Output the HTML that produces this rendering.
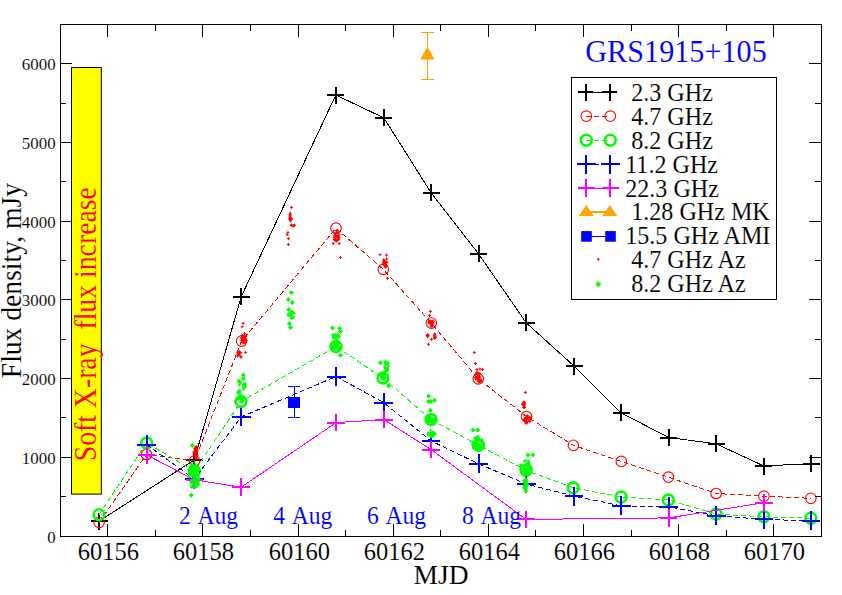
<!DOCTYPE html><html><head><meta charset="utf-8"><style>html,body{margin:0;padding:0;background:#fff;overflow:hidden}svg{display:block}text{font-family:"Liberation Serif",serif}</style></head><body>
<svg width="842" height="595" viewBox="0 0 842 595">
<rect x="0" y="0" width="842" height="595" fill="#fff"/>
<rect x="71.5" y="67.5" width="29.8" height="426.6" fill="#ffff00" stroke="#000" stroke-width="1"/>
<text transform="translate(95.60,461.30) rotate(-90) scale(1,1.100)" font-size="27.75" fill="#ff0000" stroke="#ffff00" stroke-width="0.10" xml:space="preserve">Soft X-ray  flux increase</text>
<polyline points="99.0,521.2 194.3,459.9 241.1,296.9 335.8,95.0 383.9,117.9 431.1,192.8 478.6,253.9 526.1,322.7 574.0,366.0 621.0,412.8 668.6,437.5 716.1,443.8 763.9,466.0 811.0,463.6" fill="none" stroke="#000" stroke-width="1" shape-rendering="crispEdges"/>
<path d="M90.5 521.2h17.0M99.0 512.7v17.0" stroke="#000" stroke-width="2" fill="none" shape-rendering="crispEdges"/>
<path d="M185.8 459.9h17.0M194.3 451.4v17.0" stroke="#000" stroke-width="2" fill="none" shape-rendering="crispEdges"/>
<path d="M232.6 296.9h17.0M241.1 288.4v17.0" stroke="#000" stroke-width="2" fill="none" shape-rendering="crispEdges"/>
<path d="M327.3 95.0h17.0M335.8 86.5v17.0" stroke="#000" stroke-width="2" fill="none" shape-rendering="crispEdges"/>
<path d="M375.4 117.9h17.0M383.9 109.4v17.0" stroke="#000" stroke-width="2" fill="none" shape-rendering="crispEdges"/>
<path d="M422.6 192.8h17.0M431.1 184.3v17.0" stroke="#000" stroke-width="2" fill="none" shape-rendering="crispEdges"/>
<path d="M470.1 253.9h17.0M478.6 245.4v17.0" stroke="#000" stroke-width="2" fill="none" shape-rendering="crispEdges"/>
<path d="M517.6 322.7h17.0M526.1 314.2v17.0" stroke="#000" stroke-width="2" fill="none" shape-rendering="crispEdges"/>
<path d="M565.5 366.0h17.0M574.0 357.5v17.0" stroke="#000" stroke-width="2" fill="none" shape-rendering="crispEdges"/>
<path d="M612.5 412.8h17.0M621.0 404.3v17.0" stroke="#000" stroke-width="2" fill="none" shape-rendering="crispEdges"/>
<path d="M660.1 437.5h17.0M668.6 429.0v17.0" stroke="#000" stroke-width="2" fill="none" shape-rendering="crispEdges"/>
<path d="M707.6 443.8h17.0M716.1 435.3v17.0" stroke="#000" stroke-width="2" fill="none" shape-rendering="crispEdges"/>
<path d="M755.4 466.0h17.0M763.9 457.5v17.0" stroke="#000" stroke-width="2" fill="none" shape-rendering="crispEdges"/>
<path d="M802.5 463.6h17.0M811.0 455.1v17.0" stroke="#000" stroke-width="2" fill="none" shape-rendering="crispEdges"/>
<polyline points="99.1,522.3 146.5,454.5 194.5,461.0 241.6,341.1 336.0,228.2 383.3,269.3 431.3,323.1 478.3,378.8 526.5,416.5 573.4,445.3 621.3,461.4 668.4,477.2 716.1,493.5 763.9,496.2 810.9,498.3" fill="none" stroke="#ff0000" stroke-width="1" stroke-dasharray="5,3" shape-rendering="crispEdges"/>
<circle cx="99.1" cy="522.3" r="5.3" fill="none" stroke="#ff0000" stroke-width="1.1"/>
<circle cx="146.5" cy="454.5" r="5.3" fill="none" stroke="#ff0000" stroke-width="1.1"/>
<circle cx="194.5" cy="461.0" r="5.3" fill="none" stroke="#ff0000" stroke-width="1.1"/>
<circle cx="241.6" cy="341.1" r="5.3" fill="none" stroke="#ff0000" stroke-width="1.1"/>
<circle cx="336.0" cy="228.2" r="5.3" fill="none" stroke="#ff0000" stroke-width="1.1"/>
<circle cx="383.3" cy="269.3" r="5.3" fill="none" stroke="#ff0000" stroke-width="1.1"/>
<circle cx="431.3" cy="323.1" r="5.3" fill="none" stroke="#ff0000" stroke-width="1.1"/>
<circle cx="478.3" cy="378.8" r="5.3" fill="none" stroke="#ff0000" stroke-width="1.1"/>
<circle cx="526.5" cy="416.5" r="5.3" fill="none" stroke="#ff0000" stroke-width="1.1"/>
<circle cx="573.4" cy="445.3" r="5.3" fill="none" stroke="#ff0000" stroke-width="1.1"/>
<circle cx="621.3" cy="461.4" r="5.3" fill="none" stroke="#ff0000" stroke-width="1.1"/>
<circle cx="668.4" cy="477.2" r="5.3" fill="none" stroke="#ff0000" stroke-width="1.1"/>
<circle cx="716.1" cy="493.5" r="5.3" fill="none" stroke="#ff0000" stroke-width="1.1"/>
<circle cx="763.9" cy="496.2" r="5.3" fill="none" stroke="#ff0000" stroke-width="1.1"/>
<circle cx="810.9" cy="498.3" r="5.3" fill="none" stroke="#ff0000" stroke-width="1.1"/>
<polyline points="99.0,514.7 146.6,443.0 194.5,471.0 241.0,401.5 336.0,346.5 383.0,378.0 431.0,419.6 478.6,445.3 526.1,470.3 573.2,487.8 621.1,497.0 668.4,500.0 716.1,514.0 763.9,516.8 810.9,518.2" fill="none" stroke="#00ff00" stroke-width="1" stroke-dasharray="5,3" shape-rendering="crispEdges"/>
<circle cx="99.0" cy="514.7" r="5.4" fill="none" stroke="#00ff00" stroke-width="2.6"/>
<circle cx="146.6" cy="443.0" r="5.4" fill="none" stroke="#00ff00" stroke-width="2.6"/>
<circle cx="194.5" cy="471.0" r="5.4" fill="none" stroke="#00ff00" stroke-width="2.6"/>
<circle cx="241.0" cy="401.5" r="5.4" fill="none" stroke="#00ff00" stroke-width="2.6"/>
<circle cx="336.0" cy="346.5" r="5.4" fill="none" stroke="#00ff00" stroke-width="2.6"/>
<circle cx="383.0" cy="378.0" r="5.4" fill="none" stroke="#00ff00" stroke-width="2.6"/>
<circle cx="431.0" cy="419.6" r="5.4" fill="none" stroke="#00ff00" stroke-width="2.6"/>
<circle cx="478.6" cy="445.3" r="5.4" fill="none" stroke="#00ff00" stroke-width="2.6"/>
<circle cx="526.1" cy="470.3" r="5.4" fill="none" stroke="#00ff00" stroke-width="2.6"/>
<circle cx="573.2" cy="487.8" r="5.4" fill="none" stroke="#00ff00" stroke-width="2.6"/>
<circle cx="621.1" cy="497.0" r="5.4" fill="none" stroke="#00ff00" stroke-width="2.6"/>
<circle cx="668.4" cy="500.0" r="5.4" fill="none" stroke="#00ff00" stroke-width="2.6"/>
<circle cx="716.1" cy="514.0" r="5.4" fill="none" stroke="#00ff00" stroke-width="2.6"/>
<circle cx="763.9" cy="516.8" r="5.4" fill="none" stroke="#00ff00" stroke-width="2.6"/>
<circle cx="810.9" cy="518.2" r="5.4" fill="none" stroke="#00ff00" stroke-width="2.6"/>
<polyline points="146.6,444.6 194.3,479.1 241.1,417.0 336.1,376.5 383.7,402.6 431.0,440.9 478.6,463.8 526.1,484.0 574.0,496.1 621.1,505.8 668.6,506.8 716.1,515.7 763.9,519.4 810.9,520.8" fill="none" stroke="#0000ff" stroke-width="1" stroke-dasharray="5,3" shape-rendering="crispEdges"/>
<path d="M137.2 444.6h18.8M146.6 435.2v18.8" stroke="#0000ff" stroke-width="2" fill="none" shape-rendering="crispEdges"/>
<path d="M184.9 479.1h18.8M194.3 469.7v18.8" stroke="#0000ff" stroke-width="2" fill="none" shape-rendering="crispEdges"/>
<path d="M231.7 417.0h18.8M241.1 407.6v18.8" stroke="#0000ff" stroke-width="2" fill="none" shape-rendering="crispEdges"/>
<path d="M326.7 376.5h18.8M336.1 367.1v18.8" stroke="#0000ff" stroke-width="2" fill="none" shape-rendering="crispEdges"/>
<path d="M374.3 402.6h18.8M383.7 393.2v18.8" stroke="#0000ff" stroke-width="2" fill="none" shape-rendering="crispEdges"/>
<path d="M421.6 440.9h18.8M431.0 431.5v18.8" stroke="#0000ff" stroke-width="2" fill="none" shape-rendering="crispEdges"/>
<path d="M469.2 463.8h18.8M478.6 454.4v18.8" stroke="#0000ff" stroke-width="2" fill="none" shape-rendering="crispEdges"/>
<path d="M516.7 484.0h18.8M526.1 474.6v18.8" stroke="#0000ff" stroke-width="2" fill="none" shape-rendering="crispEdges"/>
<path d="M564.6 496.1h18.8M574.0 486.7v18.8" stroke="#0000ff" stroke-width="2" fill="none" shape-rendering="crispEdges"/>
<path d="M611.7 505.8h18.8M621.1 496.4v18.8" stroke="#0000ff" stroke-width="2" fill="none" shape-rendering="crispEdges"/>
<path d="M659.2 506.8h18.8M668.6 497.4v18.8" stroke="#0000ff" stroke-width="2" fill="none" shape-rendering="crispEdges"/>
<path d="M706.7 515.7h18.8M716.1 506.3v18.8" stroke="#0000ff" stroke-width="2" fill="none" shape-rendering="crispEdges"/>
<path d="M754.5 519.4h18.8M763.9 510.0v18.8" stroke="#0000ff" stroke-width="2" fill="none" shape-rendering="crispEdges"/>
<path d="M801.5 520.8h18.8M810.9 511.4v18.8" stroke="#0000ff" stroke-width="2" fill="none" shape-rendering="crispEdges"/>
<polyline points="146.6,454.8 194.3,479.8 241.1,487.2 336.1,422.6 383.7,419.5 431.0,449.5 526.1,519.4 668.6,517.9 763.9,502.7" fill="none" stroke="#ff00ff" stroke-width="1" shape-rendering="crispEdges"/>
<path d="M137.8 454.8h17.6M146.6 446.0v17.6" stroke="#ff00ff" stroke-width="2" fill="none" shape-rendering="crispEdges"/>
<path d="M185.5 479.8h17.6M194.3 471.0v17.6" stroke="#ff00ff" stroke-width="2" fill="none" shape-rendering="crispEdges"/>
<path d="M232.3 487.2h17.6M241.1 478.4v17.6" stroke="#ff00ff" stroke-width="2" fill="none" shape-rendering="crispEdges"/>
<path d="M327.3 422.6h17.6M336.1 413.8v17.6" stroke="#ff00ff" stroke-width="2" fill="none" shape-rendering="crispEdges"/>
<path d="M374.9 419.5h17.6M383.7 410.7v17.6" stroke="#ff00ff" stroke-width="2" fill="none" shape-rendering="crispEdges"/>
<path d="M422.2 449.5h17.6M431.0 440.7v17.6" stroke="#ff00ff" stroke-width="2" fill="none" shape-rendering="crispEdges"/>
<path d="M517.3 519.4h17.6M526.1 510.6v17.6" stroke="#ff00ff" stroke-width="2" fill="none" shape-rendering="crispEdges"/>
<path d="M659.8 517.9h17.6M668.6 509.1v17.6" stroke="#ff00ff" stroke-width="2" fill="none" shape-rendering="crispEdges"/>
<path d="M755.1 502.7h17.6M763.9 493.9v17.6" stroke="#ff00ff" stroke-width="2" fill="none" shape-rendering="crispEdges"/>
<path d="M427.5 32.5V79.5M421 32.5h13M421 79.5h13" stroke="#ffa500" stroke-width="1" fill="none" shape-rendering="crispEdges"/>
<path d="M427.4 46.5L434.5 59.6H420.3Z" fill="#ffa500"/>
<path d="M294.5 386.5V417.5M288 386.5h12M288 417.5h12" stroke="#0000ff" stroke-width="1" fill="none" shape-rendering="crispEdges"/>
<rect x="288" y="397" width="12" height="11" fill="#0000ff" shape-rendering="crispEdges"/>
<path d="M193.8 448.0h3M195.3 446.5v3" stroke="#ff0000" stroke-width="1" fill="none"/>
<path d="M195.1 446.9h3M196.6 445.4v3" stroke="#ff0000" stroke-width="1" fill="none"/>
<path d="M194.6 450.8h3M196.1 449.3v3" stroke="#ff0000" stroke-width="1" fill="none"/>
<path d="M192.7 452.6h3M194.2 451.1v3" stroke="#ff0000" stroke-width="1" fill="none"/>
<path d="M192.6 451.6h3M194.1 450.1v3" stroke="#ff0000" stroke-width="1" fill="none"/>
<path d="M194.2 456.7h3M195.7 455.2v3" stroke="#ff0000" stroke-width="1" fill="none"/>
<path d="M193.0 448.9h3M194.5 447.4v3" stroke="#ff0000" stroke-width="1" fill="none"/>
<path d="M195.0 458.3h3M196.5 456.8v3" stroke="#ff0000" stroke-width="1" fill="none"/>
<path d="M194.8 451.2h3M196.3 449.7v3" stroke="#ff0000" stroke-width="1" fill="none"/>
<path d="M195.9 449.8h3M197.4 448.3v3" stroke="#ff0000" stroke-width="1" fill="none"/>
<path d="M193.7 456.6h3M195.2 455.1v3" stroke="#ff0000" stroke-width="1" fill="none"/>
<path d="M193.2 453.6h3M194.7 452.1v3" stroke="#ff0000" stroke-width="1" fill="none"/>
<path d="M195.1 450.8h3M196.6 449.3v3" stroke="#ff0000" stroke-width="1" fill="none"/>
<path d="M194.7 446.8h3M196.2 445.3v3" stroke="#ff0000" stroke-width="1" fill="none"/>
<path d="M195.2 451.6h3M196.7 450.1v3" stroke="#ff0000" stroke-width="1" fill="none"/>
<path d="M193.8 453.6h3M195.3 452.1v3" stroke="#ff0000" stroke-width="1" fill="none"/>
<path d="M194.3 449.9h3M195.8 448.4v3" stroke="#ff0000" stroke-width="1" fill="none"/>
<path d="M195.7 455.1h3M197.2 453.6v3" stroke="#ff0000" stroke-width="1" fill="none"/>
<path d="M193.5 453.5h3M195.0 452.0v3" stroke="#ff0000" stroke-width="1" fill="none"/>
<path d="M194.6 457.4h3M196.1 455.9v3" stroke="#ff0000" stroke-width="1" fill="none"/>
<path d="M195.4 449.7h3M196.9 448.2v3" stroke="#ff0000" stroke-width="1" fill="none"/>
<path d="M194.2 455.8h3M195.7 454.3v3" stroke="#ff0000" stroke-width="1" fill="none"/>
<path d="M193.1 452.4h3M194.6 450.9v3" stroke="#ff0000" stroke-width="1" fill="none"/>
<path d="M192.7 454.7h3M194.2 453.2v3" stroke="#ff0000" stroke-width="1" fill="none"/>
<path d="M243.6 339.3h3M245.1 337.8v3" stroke="#ff0000" stroke-width="1" fill="none"/>
<path d="M244.1 336.5h3M245.6 335.0v3" stroke="#ff0000" stroke-width="1" fill="none"/>
<path d="M243.2 339.5h3M244.7 338.0v3" stroke="#ff0000" stroke-width="1" fill="none"/>
<path d="M242.7 338.0h3M244.2 336.5v3" stroke="#ff0000" stroke-width="1" fill="none"/>
<path d="M242.2 340.3h3M243.7 338.8v3" stroke="#ff0000" stroke-width="1" fill="none"/>
<path d="M240.2 340.7h3M241.7 339.2v3" stroke="#ff0000" stroke-width="1" fill="none"/>
<path d="M243.8 336.1h3M245.3 334.6v3" stroke="#ff0000" stroke-width="1" fill="none"/>
<path d="M241.8 340.4h3M243.3 338.9v3" stroke="#ff0000" stroke-width="1" fill="none"/>
<path d="M240.0 338.1h3M241.5 336.6v3" stroke="#ff0000" stroke-width="1" fill="none"/>
<path d="M240.5 335.7h3M242.0 334.2v3" stroke="#ff0000" stroke-width="1" fill="none"/>
<path d="M241.8 342.6h3M243.3 341.1v3" stroke="#ff0000" stroke-width="1" fill="none"/>
<path d="M240.3 337.9h3M241.8 336.4v3" stroke="#ff0000" stroke-width="1" fill="none"/>
<path d="M242.5 342.7h3M244.0 341.2v3" stroke="#ff0000" stroke-width="1" fill="none"/>
<path d="M243.8 342.5h3M245.3 341.0v3" stroke="#ff0000" stroke-width="1" fill="none"/>
<path d="M241.2 337.6h3M242.7 336.1v3" stroke="#ff0000" stroke-width="1" fill="none"/>
<path d="M241.6 342.7h3M243.1 341.2v3" stroke="#ff0000" stroke-width="1" fill="none"/>
<path d="M240.7 335.6h3M242.2 334.1v3" stroke="#ff0000" stroke-width="1" fill="none"/>
<path d="M241.0 338.3h3M242.5 336.8v3" stroke="#ff0000" stroke-width="1" fill="none"/>
<path d="M242.7 335.9h3M244.2 334.4v3" stroke="#ff0000" stroke-width="1" fill="none"/>
<path d="M241.7 339.2h3M243.2 337.7v3" stroke="#ff0000" stroke-width="1" fill="none"/>
<path d="M244.5 340.6h3M246.0 339.1v3" stroke="#ff0000" stroke-width="1" fill="none"/>
<path d="M242.4 339.8h3M243.9 338.3v3" stroke="#ff0000" stroke-width="1" fill="none"/>
<path d="M243.1 333.6h3M244.6 332.1v3" stroke="#ff0000" stroke-width="1" fill="none"/>
<path d="M239.5 356.9h3M241.0 355.4v3" stroke="#ff0000" stroke-width="1" fill="none"/>
<path d="M239.4 357.0h3M240.9 355.5v3" stroke="#ff0000" stroke-width="1" fill="none"/>
<path d="M237.3 354.3h3M238.8 352.8v3" stroke="#ff0000" stroke-width="1" fill="none"/>
<path d="M236.1 355.9h3M237.6 354.4v3" stroke="#ff0000" stroke-width="1" fill="none"/>
<path d="M236.6 352.7h3M238.1 351.2v3" stroke="#ff0000" stroke-width="1" fill="none"/>
<path d="M237.1 352.0h3M238.6 350.5v3" stroke="#ff0000" stroke-width="1" fill="none"/>
<path d="M236.1 354.1h3M237.6 352.6v3" stroke="#ff0000" stroke-width="1" fill="none"/>
<path d="M238.3 352.6h3M239.8 351.1v3" stroke="#ff0000" stroke-width="1" fill="none"/>
<path d="M236.8 354.0h3M238.3 352.5v3" stroke="#ff0000" stroke-width="1" fill="none"/>
<path d="M237.2 352.4h3M238.7 350.9v3" stroke="#ff0000" stroke-width="1" fill="none"/>
<path d="M237.7 354.9h3M239.2 353.4v3" stroke="#ff0000" stroke-width="1" fill="none"/>
<path d="M237.1 353.4h3M238.6 351.9v3" stroke="#ff0000" stroke-width="1" fill="none"/>
<path d="M239.2 352.7h3M240.7 351.2v3" stroke="#ff0000" stroke-width="1" fill="none"/>
<path d="M237.9 352.6h3M239.4 351.1v3" stroke="#ff0000" stroke-width="1" fill="none"/>
<path d="M238.0 351.8h3M239.5 350.3v3" stroke="#ff0000" stroke-width="1" fill="none"/>
<path d="M241.6 323.4h3M243.1 321.9v3" stroke="#ff0000" stroke-width="1" fill="none"/>
<path d="M240.7 326.8h3M242.2 325.3v3" stroke="#ff0000" stroke-width="1" fill="none"/>
<path d="M244.1 352.4h3M245.6 350.9v3" stroke="#ff0000" stroke-width="1" fill="none"/>
<path d="M289.1 220.8h3M290.6 219.3v3" stroke="#ff0000" stroke-width="1" fill="none"/>
<path d="M289.7 218.6h3M291.2 217.1v3" stroke="#ff0000" stroke-width="1" fill="none"/>
<path d="M288.5 215.9h3M290.0 214.4v3" stroke="#ff0000" stroke-width="1" fill="none"/>
<path d="M288.3 219.2h3M289.8 217.7v3" stroke="#ff0000" stroke-width="1" fill="none"/>
<path d="M289.1 219.2h3M290.6 217.7v3" stroke="#ff0000" stroke-width="1" fill="none"/>
<path d="M288.7 214.8h3M290.2 213.3v3" stroke="#ff0000" stroke-width="1" fill="none"/>
<path d="M289.7 219.4h3M291.2 217.9v3" stroke="#ff0000" stroke-width="1" fill="none"/>
<path d="M289.6 218.9h3M291.1 217.4v3" stroke="#ff0000" stroke-width="1" fill="none"/>
<path d="M288.5 217.1h3M290.0 215.6v3" stroke="#ff0000" stroke-width="1" fill="none"/>
<path d="M288.7 213.2h3M290.2 211.7v3" stroke="#ff0000" stroke-width="1" fill="none"/>
<path d="M288.5 218.5h3M290.0 217.0v3" stroke="#ff0000" stroke-width="1" fill="none"/>
<path d="M292.8 225.4h3M294.3 223.9v3" stroke="#ff0000" stroke-width="1" fill="none"/>
<path d="M292.8 225.3h3M294.3 223.8v3" stroke="#ff0000" stroke-width="1" fill="none"/>
<path d="M289.9 225.2h3M291.4 223.7v3" stroke="#ff0000" stroke-width="1" fill="none"/>
<path d="M289.8 225.1h3M291.3 223.6v3" stroke="#ff0000" stroke-width="1" fill="none"/>
<path d="M291.5 226.0h3M293.0 224.5v3" stroke="#ff0000" stroke-width="1" fill="none"/>
<path d="M292.4 225.5h3M293.9 224.0v3" stroke="#ff0000" stroke-width="1" fill="none"/>
<path d="M290.1 207.4h3M291.6 205.9v3" stroke="#ff0000" stroke-width="1" fill="none"/>
<path d="M286.5 232.4h3M288.0 230.9v3" stroke="#ff0000" stroke-width="1" fill="none"/>
<path d="M285.7 234.5h3M287.2 233.0v3" stroke="#ff0000" stroke-width="1" fill="none"/>
<path d="M286.9 238.7h3M288.4 237.2v3" stroke="#ff0000" stroke-width="1" fill="none"/>
<path d="M286.9 244.5h3M288.4 243.0v3" stroke="#ff0000" stroke-width="1" fill="none"/>
<path d="M335.9 239.3h3M337.4 237.8v3" stroke="#ff0000" stroke-width="1" fill="none"/>
<path d="M332.7 237.8h3M334.2 236.3v3" stroke="#ff0000" stroke-width="1" fill="none"/>
<path d="M337.3 239.1h3M338.8 237.6v3" stroke="#ff0000" stroke-width="1" fill="none"/>
<path d="M336.4 235.8h3M337.9 234.3v3" stroke="#ff0000" stroke-width="1" fill="none"/>
<path d="M333.2 239.2h3M334.7 237.7v3" stroke="#ff0000" stroke-width="1" fill="none"/>
<path d="M334.1 239.3h3M335.6 237.8v3" stroke="#ff0000" stroke-width="1" fill="none"/>
<path d="M337.6 234.9h3M339.1 233.4v3" stroke="#ff0000" stroke-width="1" fill="none"/>
<path d="M334.4 240.9h3M335.9 239.4v3" stroke="#ff0000" stroke-width="1" fill="none"/>
<path d="M336.3 232.4h3M337.8 230.9v3" stroke="#ff0000" stroke-width="1" fill="none"/>
<path d="M333.0 239.6h3M334.5 238.1v3" stroke="#ff0000" stroke-width="1" fill="none"/>
<path d="M334.2 236.5h3M335.7 235.0v3" stroke="#ff0000" stroke-width="1" fill="none"/>
<path d="M337.6 237.6h3M339.1 236.1v3" stroke="#ff0000" stroke-width="1" fill="none"/>
<path d="M335.1 240.8h3M336.6 239.3v3" stroke="#ff0000" stroke-width="1" fill="none"/>
<path d="M334.6 240.1h3M336.1 238.6v3" stroke="#ff0000" stroke-width="1" fill="none"/>
<path d="M336.8 232.8h3M338.3 231.3v3" stroke="#ff0000" stroke-width="1" fill="none"/>
<path d="M333.6 233.7h3M335.1 232.2v3" stroke="#ff0000" stroke-width="1" fill="none"/>
<path d="M333.5 237.0h3M335.0 235.5v3" stroke="#ff0000" stroke-width="1" fill="none"/>
<path d="M333.7 235.1h3M335.2 233.6v3" stroke="#ff0000" stroke-width="1" fill="none"/>
<path d="M334.2 235.5h3M335.7 234.0v3" stroke="#ff0000" stroke-width="1" fill="none"/>
<path d="M335.5 240.4h3M337.0 238.9v3" stroke="#ff0000" stroke-width="1" fill="none"/>
<path d="M334.6 240.6h3M336.1 239.1v3" stroke="#ff0000" stroke-width="1" fill="none"/>
<path d="M335.0 236.4h3M336.5 234.9v3" stroke="#ff0000" stroke-width="1" fill="none"/>
<path d="M335.1 230.7h3M336.6 229.2v3" stroke="#ff0000" stroke-width="1" fill="none"/>
<path d="M334.7 232.5h3M336.2 231.0v3" stroke="#ff0000" stroke-width="1" fill="none"/>
<path d="M333.2 235.7h3M334.7 234.2v3" stroke="#ff0000" stroke-width="1" fill="none"/>
<path d="M336.3 236.6h3M337.8 235.1v3" stroke="#ff0000" stroke-width="1" fill="none"/>
<path d="M331.8 243.6h3M333.3 242.1v3" stroke="#ff0000" stroke-width="1" fill="none"/>
<path d="M337.7 243.6h3M339.2 242.1v3" stroke="#ff0000" stroke-width="1" fill="none"/>
<path d="M339.0 257.4h3M340.5 255.9v3" stroke="#ff0000" stroke-width="1" fill="none"/>
<path d="M383.0 262.7h3M384.5 261.2v3" stroke="#ff0000" stroke-width="1" fill="none"/>
<path d="M383.9 265.2h3M385.4 263.7v3" stroke="#ff0000" stroke-width="1" fill="none"/>
<path d="M382.1 263.1h3M383.6 261.6v3" stroke="#ff0000" stroke-width="1" fill="none"/>
<path d="M382.7 260.4h3M384.2 258.9v3" stroke="#ff0000" stroke-width="1" fill="none"/>
<path d="M384.8 262.6h3M386.3 261.1v3" stroke="#ff0000" stroke-width="1" fill="none"/>
<path d="M383.9 265.0h3M385.4 263.5v3" stroke="#ff0000" stroke-width="1" fill="none"/>
<path d="M385.3 262.0h3M386.8 260.5v3" stroke="#ff0000" stroke-width="1" fill="none"/>
<path d="M384.2 262.6h3M385.7 261.1v3" stroke="#ff0000" stroke-width="1" fill="none"/>
<path d="M383.7 264.4h3M385.2 262.9v3" stroke="#ff0000" stroke-width="1" fill="none"/>
<path d="M383.5 262.8h3M385.0 261.3v3" stroke="#ff0000" stroke-width="1" fill="none"/>
<path d="M383.6 266.7h3M385.1 265.2v3" stroke="#ff0000" stroke-width="1" fill="none"/>
<path d="M384.5 266.1h3M386.0 264.6v3" stroke="#ff0000" stroke-width="1" fill="none"/>
<path d="M383.9 266.8h3M385.4 265.3v3" stroke="#ff0000" stroke-width="1" fill="none"/>
<path d="M385.1 259.0h3M386.6 257.5v3" stroke="#ff0000" stroke-width="1" fill="none"/>
<path d="M382.2 261.9h3M383.7 260.4v3" stroke="#ff0000" stroke-width="1" fill="none"/>
<path d="M382.0 260.0h3M383.5 258.5v3" stroke="#ff0000" stroke-width="1" fill="none"/>
<path d="M382.0 264.1h3M383.5 262.6v3" stroke="#ff0000" stroke-width="1" fill="none"/>
<path d="M384.8 266.3h3M386.3 264.8v3" stroke="#ff0000" stroke-width="1" fill="none"/>
<path d="M382.3 264.6h3M383.8 263.1v3" stroke="#ff0000" stroke-width="1" fill="none"/>
<path d="M378.6 254.7h3M380.1 253.2v3" stroke="#ff0000" stroke-width="1" fill="none"/>
<path d="M385.0 255.1h3M386.5 253.6v3" stroke="#ff0000" stroke-width="1" fill="none"/>
<path d="M386.0 278.3h3M387.5 276.8v3" stroke="#ff0000" stroke-width="1" fill="none"/>
<path d="M431.1 321.1h3M432.6 319.6v3" stroke="#ff0000" stroke-width="1" fill="none"/>
<path d="M429.3 323.4h3M430.8 321.9v3" stroke="#ff0000" stroke-width="1" fill="none"/>
<path d="M427.8 323.0h3M429.3 321.5v3" stroke="#ff0000" stroke-width="1" fill="none"/>
<path d="M430.1 322.4h3M431.6 320.9v3" stroke="#ff0000" stroke-width="1" fill="none"/>
<path d="M428.0 322.3h3M429.5 320.8v3" stroke="#ff0000" stroke-width="1" fill="none"/>
<path d="M430.4 323.1h3M431.9 321.6v3" stroke="#ff0000" stroke-width="1" fill="none"/>
<path d="M430.8 323.6h3M432.3 322.1v3" stroke="#ff0000" stroke-width="1" fill="none"/>
<path d="M427.4 322.0h3M428.9 320.5v3" stroke="#ff0000" stroke-width="1" fill="none"/>
<path d="M428.5 321.1h3M430.0 319.6v3" stroke="#ff0000" stroke-width="1" fill="none"/>
<path d="M429.5 326.2h3M431.0 324.7v3" stroke="#ff0000" stroke-width="1" fill="none"/>
<path d="M432.1 321.9h3M433.6 320.4v3" stroke="#ff0000" stroke-width="1" fill="none"/>
<path d="M430.5 324.8h3M432.0 323.3v3" stroke="#ff0000" stroke-width="1" fill="none"/>
<path d="M431.2 323.0h3M432.7 321.5v3" stroke="#ff0000" stroke-width="1" fill="none"/>
<path d="M430.9 325.5h3M432.4 324.0v3" stroke="#ff0000" stroke-width="1" fill="none"/>
<path d="M429.7 322.4h3M431.2 320.9v3" stroke="#ff0000" stroke-width="1" fill="none"/>
<path d="M430.4 326.3h3M431.9 324.8v3" stroke="#ff0000" stroke-width="1" fill="none"/>
<path d="M428.5 321.1h3M430.0 319.6v3" stroke="#ff0000" stroke-width="1" fill="none"/>
<path d="M430.2 321.8h3M431.7 320.3v3" stroke="#ff0000" stroke-width="1" fill="none"/>
<path d="M428.8 322.2h3M430.3 320.7v3" stroke="#ff0000" stroke-width="1" fill="none"/>
<path d="M431.7 322.1h3M433.2 320.6v3" stroke="#ff0000" stroke-width="1" fill="none"/>
<path d="M426.2 334.5h3M427.7 333.0v3" stroke="#ff0000" stroke-width="1" fill="none"/>
<path d="M426.4 335.8h3M427.9 334.3v3" stroke="#ff0000" stroke-width="1" fill="none"/>
<path d="M425.9 335.5h3M427.4 334.0v3" stroke="#ff0000" stroke-width="1" fill="none"/>
<path d="M426.5 335.4h3M428.0 333.9v3" stroke="#ff0000" stroke-width="1" fill="none"/>
<path d="M426.2 336.7h3M427.7 335.2v3" stroke="#ff0000" stroke-width="1" fill="none"/>
<path d="M433.3 336.3h3M434.8 334.8v3" stroke="#ff0000" stroke-width="1" fill="none"/>
<path d="M433.2 338.4h3M434.7 336.9v3" stroke="#ff0000" stroke-width="1" fill="none"/>
<path d="M433.6 337.2h3M435.1 335.7v3" stroke="#ff0000" stroke-width="1" fill="none"/>
<path d="M433.3 335.3h3M434.8 333.8v3" stroke="#ff0000" stroke-width="1" fill="none"/>
<path d="M433.0 337.8h3M434.5 336.3v3" stroke="#ff0000" stroke-width="1" fill="none"/>
<path d="M433.2 334.1h3M434.7 332.6v3" stroke="#ff0000" stroke-width="1" fill="none"/>
<path d="M433.8 337.4h3M435.3 335.9v3" stroke="#ff0000" stroke-width="1" fill="none"/>
<path d="M433.2 334.7h3M434.7 333.2v3" stroke="#ff0000" stroke-width="1" fill="none"/>
<path d="M428.9 311.4h3M430.4 309.9v3" stroke="#ff0000" stroke-width="1" fill="none"/>
<path d="M428.0 315.6h3M429.5 314.1v3" stroke="#ff0000" stroke-width="1" fill="none"/>
<path d="M430.0 339.4h3M431.5 337.9v3" stroke="#ff0000" stroke-width="1" fill="none"/>
<path d="M427.0 344.3h3M428.5 342.8v3" stroke="#ff0000" stroke-width="1" fill="none"/>
<path d="M475.7 373.4h3M477.2 371.9v3" stroke="#ff0000" stroke-width="1" fill="none"/>
<path d="M475.1 373.3h3M476.6 371.8v3" stroke="#ff0000" stroke-width="1" fill="none"/>
<path d="M478.4 373.6h3M479.9 372.1v3" stroke="#ff0000" stroke-width="1" fill="none"/>
<path d="M475.7 373.1h3M477.2 371.6v3" stroke="#ff0000" stroke-width="1" fill="none"/>
<path d="M476.4 373.5h3M477.9 372.0v3" stroke="#ff0000" stroke-width="1" fill="none"/>
<path d="M475.3 373.5h3M476.8 372.0v3" stroke="#ff0000" stroke-width="1" fill="none"/>
<path d="M474.9 373.2h3M476.4 371.7v3" stroke="#ff0000" stroke-width="1" fill="none"/>
<path d="M475.7 372.7h3M477.2 371.2v3" stroke="#ff0000" stroke-width="1" fill="none"/>
<path d="M476.8 373.6h3M478.3 372.1v3" stroke="#ff0000" stroke-width="1" fill="none"/>
<path d="M478.4 380.1h3M479.9 378.6v3" stroke="#ff0000" stroke-width="1" fill="none"/>
<path d="M478.2 381.7h3M479.7 380.2v3" stroke="#ff0000" stroke-width="1" fill="none"/>
<path d="M476.1 377.8h3M477.6 376.3v3" stroke="#ff0000" stroke-width="1" fill="none"/>
<path d="M478.2 380.0h3M479.7 378.5v3" stroke="#ff0000" stroke-width="1" fill="none"/>
<path d="M479.3 379.9h3M480.8 378.4v3" stroke="#ff0000" stroke-width="1" fill="none"/>
<path d="M478.3 381.2h3M479.8 379.7v3" stroke="#ff0000" stroke-width="1" fill="none"/>
<path d="M474.5 379.2h3M476.0 377.7v3" stroke="#ff0000" stroke-width="1" fill="none"/>
<path d="M476.8 381.3h3M478.3 379.8v3" stroke="#ff0000" stroke-width="1" fill="none"/>
<path d="M478.7 381.3h3M480.2 379.8v3" stroke="#ff0000" stroke-width="1" fill="none"/>
<path d="M477.3 381.7h3M478.8 380.2v3" stroke="#ff0000" stroke-width="1" fill="none"/>
<path d="M478.0 380.4h3M479.5 378.9v3" stroke="#ff0000" stroke-width="1" fill="none"/>
<path d="M474.5 378.0h3M476.0 376.5v3" stroke="#ff0000" stroke-width="1" fill="none"/>
<path d="M477.2 379.9h3M478.7 378.4v3" stroke="#ff0000" stroke-width="1" fill="none"/>
<path d="M477.6 380.3h3M479.1 378.8v3" stroke="#ff0000" stroke-width="1" fill="none"/>
<path d="M476.7 375.5h3M478.2 374.0v3" stroke="#ff0000" stroke-width="1" fill="none"/>
<path d="M478.7 380.7h3M480.2 379.2v3" stroke="#ff0000" stroke-width="1" fill="none"/>
<path d="M476.8 379.2h3M478.3 377.7v3" stroke="#ff0000" stroke-width="1" fill="none"/>
<path d="M477.8 376.0h3M479.3 374.5v3" stroke="#ff0000" stroke-width="1" fill="none"/>
<path d="M478.3 377.3h3M479.8 375.8v3" stroke="#ff0000" stroke-width="1" fill="none"/>
<path d="M474.1 377.4h3M475.6 375.9v3" stroke="#ff0000" stroke-width="1" fill="none"/>
<path d="M472.8 352.5h3M474.3 351.0v3" stroke="#ff0000" stroke-width="1" fill="none"/>
<path d="M474.0 363.5h3M475.5 362.0v3" stroke="#ff0000" stroke-width="1" fill="none"/>
<path d="M475.5 369.5h3M477.0 368.0v3" stroke="#ff0000" stroke-width="1" fill="none"/>
<path d="M478.5 369.0h3M480.0 367.5v3" stroke="#ff0000" stroke-width="1" fill="none"/>
<path d="M481.1 369.5h3M482.6 368.0v3" stroke="#ff0000" stroke-width="1" fill="none"/>
<path d="M522.9 403.6h3M524.4 402.1v3" stroke="#ff0000" stroke-width="1" fill="none"/>
<path d="M522.3 405.1h3M523.8 403.6v3" stroke="#ff0000" stroke-width="1" fill="none"/>
<path d="M522.2 407.5h3M523.7 406.0v3" stroke="#ff0000" stroke-width="1" fill="none"/>
<path d="M523.0 406.9h3M524.5 405.4v3" stroke="#ff0000" stroke-width="1" fill="none"/>
<path d="M522.7 402.6h3M524.2 401.1v3" stroke="#ff0000" stroke-width="1" fill="none"/>
<path d="M521.3 404.0h3M522.8 402.5v3" stroke="#ff0000" stroke-width="1" fill="none"/>
<path d="M523.0 404.4h3M524.5 402.9v3" stroke="#ff0000" stroke-width="1" fill="none"/>
<path d="M522.5 402.1h3M524.0 400.6v3" stroke="#ff0000" stroke-width="1" fill="none"/>
<path d="M521.1 404.2h3M522.6 402.7v3" stroke="#ff0000" stroke-width="1" fill="none"/>
<path d="M522.8 407.5h3M524.3 406.0v3" stroke="#ff0000" stroke-width="1" fill="none"/>
<path d="M522.8 404.3h3M524.3 402.8v3" stroke="#ff0000" stroke-width="1" fill="none"/>
<path d="M522.3 405.7h3M523.8 404.2v3" stroke="#ff0000" stroke-width="1" fill="none"/>
<path d="M522.2 402.9h3M523.7 401.4v3" stroke="#ff0000" stroke-width="1" fill="none"/>
<path d="M528.4 417.1h3M529.9 415.6v3" stroke="#ff0000" stroke-width="1" fill="none"/>
<path d="M523.1 419.2h3M524.6 417.7v3" stroke="#ff0000" stroke-width="1" fill="none"/>
<path d="M525.7 417.6h3M527.2 416.1v3" stroke="#ff0000" stroke-width="1" fill="none"/>
<path d="M524.3 420.2h3M525.8 418.7v3" stroke="#ff0000" stroke-width="1" fill="none"/>
<path d="M523.9 419.7h3M525.4 418.2v3" stroke="#ff0000" stroke-width="1" fill="none"/>
<path d="M527.9 419.6h3M529.4 418.1v3" stroke="#ff0000" stroke-width="1" fill="none"/>
<path d="M528.3 421.1h3M529.8 419.6v3" stroke="#ff0000" stroke-width="1" fill="none"/>
<path d="M524.4 422.7h3M525.9 421.2v3" stroke="#ff0000" stroke-width="1" fill="none"/>
<path d="M525.9 415.7h3M527.4 414.2v3" stroke="#ff0000" stroke-width="1" fill="none"/>
<path d="M523.0 419.4h3M524.5 417.9v3" stroke="#ff0000" stroke-width="1" fill="none"/>
<path d="M525.7 417.9h3M527.2 416.4v3" stroke="#ff0000" stroke-width="1" fill="none"/>
<path d="M523.8 418.3h3M525.3 416.8v3" stroke="#ff0000" stroke-width="1" fill="none"/>
<path d="M524.9 422.2h3M526.4 420.7v3" stroke="#ff0000" stroke-width="1" fill="none"/>
<path d="M528.6 421.2h3M530.1 419.7v3" stroke="#ff0000" stroke-width="1" fill="none"/>
<path d="M528.4 417.8h3M529.9 416.3v3" stroke="#ff0000" stroke-width="1" fill="none"/>
<path d="M525.2 418.6h3M526.7 417.1v3" stroke="#ff0000" stroke-width="1" fill="none"/>
<path d="M525.2 418.9h3M526.7 417.4v3" stroke="#ff0000" stroke-width="1" fill="none"/>
<path d="M524.7 423.0h3M526.2 421.5v3" stroke="#ff0000" stroke-width="1" fill="none"/>
<path d="M524.5 417.6h3M526.0 416.1v3" stroke="#ff0000" stroke-width="1" fill="none"/>
<path d="M526.1 417.0h3M527.6 415.5v3" stroke="#ff0000" stroke-width="1" fill="none"/>
<path d="M525.2 423.1h3M526.7 421.6v3" stroke="#ff0000" stroke-width="1" fill="none"/>
<path d="M523.9 392.4h3M525.4 390.9v3" stroke="#ff0000" stroke-width="1" fill="none"/>
<path d="M196.7 483.6h3M198.2 482.1v3" stroke="#00ff00" stroke-width="1" fill="none"/>
<path d="M193.9 486.2h3M195.4 484.7v3" stroke="#00ff00" stroke-width="1" fill="none"/>
<path d="M197.3 476.8h3M198.8 475.3v3" stroke="#00ff00" stroke-width="1" fill="none"/>
<path d="M195.1 474.2h3M196.6 472.7v3" stroke="#00ff00" stroke-width="1" fill="none"/>
<path d="M195.3 479.3h3M196.8 477.8v3" stroke="#00ff00" stroke-width="1" fill="none"/>
<path d="M190.1 463.8h3M191.6 462.3v3" stroke="#00ff00" stroke-width="1" fill="none"/>
<path d="M192.2 471.4h3M193.7 469.9v3" stroke="#00ff00" stroke-width="1" fill="none"/>
<path d="M190.3 481.7h3M191.8 480.2v3" stroke="#00ff00" stroke-width="1" fill="none"/>
<path d="M194.2 470.3h3M195.7 468.8v3" stroke="#00ff00" stroke-width="1" fill="none"/>
<path d="M193.1 472.8h3M194.6 471.3v3" stroke="#00ff00" stroke-width="1" fill="none"/>
<path d="M188.8 466.7h3M190.3 465.2v3" stroke="#00ff00" stroke-width="1" fill="none"/>
<path d="M192.5 468.2h3M194.0 466.7v3" stroke="#00ff00" stroke-width="1" fill="none"/>
<path d="M191.9 466.1h3M193.4 464.6v3" stroke="#00ff00" stroke-width="1" fill="none"/>
<path d="M190.8 464.9h3M192.3 463.4v3" stroke="#00ff00" stroke-width="1" fill="none"/>
<path d="M189.6 469.2h3M191.1 467.7v3" stroke="#00ff00" stroke-width="1" fill="none"/>
<path d="M193.3 485.6h3M194.8 484.1v3" stroke="#00ff00" stroke-width="1" fill="none"/>
<path d="M195.2 473.2h3M196.7 471.7v3" stroke="#00ff00" stroke-width="1" fill="none"/>
<path d="M191.6 476.1h3M193.1 474.6v3" stroke="#00ff00" stroke-width="1" fill="none"/>
<path d="M191.1 471.3h3M192.6 469.8v3" stroke="#00ff00" stroke-width="1" fill="none"/>
<path d="M187.7 469.7h3M189.2 468.2v3" stroke="#00ff00" stroke-width="1" fill="none"/>
<path d="M192.5 478.9h3M194.0 477.4v3" stroke="#00ff00" stroke-width="1" fill="none"/>
<path d="M196.5 468.1h3M198.0 466.6v3" stroke="#00ff00" stroke-width="1" fill="none"/>
<path d="M190.0 469.0h3M191.5 467.5v3" stroke="#00ff00" stroke-width="1" fill="none"/>
<path d="M191.4 474.1h3M192.9 472.6v3" stroke="#00ff00" stroke-width="1" fill="none"/>
<path d="M196.9 474.8h3M198.4 473.3v3" stroke="#00ff00" stroke-width="1" fill="none"/>
<path d="M191.3 486.6h3M192.8 485.1v3" stroke="#00ff00" stroke-width="1" fill="none"/>
<path d="M196.1 484.7h3M197.6 483.2v3" stroke="#00ff00" stroke-width="1" fill="none"/>
<path d="M192.7 480.2h3M194.2 478.7v3" stroke="#00ff00" stroke-width="1" fill="none"/>
<path d="M197.4 481.3h3M198.9 479.8v3" stroke="#00ff00" stroke-width="1" fill="none"/>
<path d="M194.1 482.4h3M195.6 480.9v3" stroke="#00ff00" stroke-width="1" fill="none"/>
<path d="M192.0 476.8h3M193.5 475.3v3" stroke="#00ff00" stroke-width="1" fill="none"/>
<path d="M189.6 486.4h3M191.1 484.9v3" stroke="#00ff00" stroke-width="1" fill="none"/>
<path d="M194.1 470.4h3M195.6 468.9v3" stroke="#00ff00" stroke-width="1" fill="none"/>
<path d="M188.4 469.0h3M189.9 467.5v3" stroke="#00ff00" stroke-width="1" fill="none"/>
<path d="M194.0 480.7h3M195.5 479.2v3" stroke="#00ff00" stroke-width="1" fill="none"/>
<path d="M192.8 477.7h3M194.3 476.2v3" stroke="#00ff00" stroke-width="1" fill="none"/>
<path d="M191.3 468.3h3M192.8 466.8v3" stroke="#00ff00" stroke-width="1" fill="none"/>
<path d="M193.6 462.8h3M195.1 461.3v3" stroke="#00ff00" stroke-width="1" fill="none"/>
<path d="M190.3 474.5h3M191.8 473.0v3" stroke="#00ff00" stroke-width="1" fill="none"/>
<path d="M197.5 479.3h3M199.0 477.8v3" stroke="#00ff00" stroke-width="1" fill="none"/>
<path d="M196.7 474.9h3M198.2 473.4v3" stroke="#00ff00" stroke-width="1" fill="none"/>
<path d="M189.6 468.9h3M191.1 467.4v3" stroke="#00ff00" stroke-width="1" fill="none"/>
<path d="M192.5 480.0h3M194.0 478.5v3" stroke="#00ff00" stroke-width="1" fill="none"/>
<path d="M191.6 469.2h3M193.1 467.7v3" stroke="#00ff00" stroke-width="1" fill="none"/>
<path d="M194.3 486.6h3M195.8 485.1v3" stroke="#00ff00" stroke-width="1" fill="none"/>
<path d="M190.7 473.4h3M192.2 471.9v3" stroke="#00ff00" stroke-width="1" fill="none"/>
<path d="M194.5 467.7h3M196.0 466.2v3" stroke="#00ff00" stroke-width="1" fill="none"/>
<path d="M195.8 481.7h3M197.3 480.2v3" stroke="#00ff00" stroke-width="1" fill="none"/>
<path d="M192.6 467.8h3M194.1 466.3v3" stroke="#00ff00" stroke-width="1" fill="none"/>
<path d="M196.0 468.5h3M197.5 467.0v3" stroke="#00ff00" stroke-width="1" fill="none"/>
<path d="M189.4 482.3h3M190.9 480.8v3" stroke="#00ff00" stroke-width="1" fill="none"/>
<path d="M190.2 487.3h3M191.7 485.8v3" stroke="#00ff00" stroke-width="1" fill="none"/>
<path d="M192.5 467.4h3M194.0 465.9v3" stroke="#00ff00" stroke-width="1" fill="none"/>
<path d="M189.5 473.3h3M191.0 471.8v3" stroke="#00ff00" stroke-width="1" fill="none"/>
<path d="M194.3 487.2h3M195.8 485.7v3" stroke="#00ff00" stroke-width="1" fill="none"/>
<path d="M188.6 472.7h3M190.1 471.2v3" stroke="#00ff00" stroke-width="1" fill="none"/>
<path d="M187.7 472.7h3M189.2 471.2v3" stroke="#00ff00" stroke-width="1" fill="none"/>
<path d="M197.2 471.1h3M198.7 469.6v3" stroke="#00ff00" stroke-width="1" fill="none"/>
<path d="M194.3 472.3h3M195.8 470.8v3" stroke="#00ff00" stroke-width="1" fill="none"/>
<path d="M191.1 471.1h3M192.6 469.6v3" stroke="#00ff00" stroke-width="1" fill="none"/>
<path d="M190.1 471.6h3M191.6 470.1v3" stroke="#00ff00" stroke-width="1" fill="none"/>
<path d="M190.9 483.9h3M192.4 482.4v3" stroke="#00ff00" stroke-width="1" fill="none"/>
<path d="M196.0 473.7h3M197.5 472.2v3" stroke="#00ff00" stroke-width="1" fill="none"/>
<path d="M187.5 474.8h3M189.0 473.3v3" stroke="#00ff00" stroke-width="1" fill="none"/>
<path d="M191.1 486.4h3M192.6 484.9v3" stroke="#00ff00" stroke-width="1" fill="none"/>
<path d="M189.1 472.0h3M190.6 470.5v3" stroke="#00ff00" stroke-width="1" fill="none"/>
<path d="M191.5 483.6h3M193.0 482.1v3" stroke="#00ff00" stroke-width="1" fill="none"/>
<path d="M197.1 469.2h3M198.6 467.7v3" stroke="#00ff00" stroke-width="1" fill="none"/>
<path d="M195.2 485.9h3M196.7 484.4v3" stroke="#00ff00" stroke-width="1" fill="none"/>
<path d="M190.7 469.6h3M192.2 468.1v3" stroke="#00ff00" stroke-width="1" fill="none"/>
<path d="M197.5 478.5h3M199.0 477.0v3" stroke="#00ff00" stroke-width="1" fill="none"/>
<path d="M189.9 481.1h3M191.4 479.6v3" stroke="#00ff00" stroke-width="1" fill="none"/>
<path d="M190.5 469.7h3M192.0 468.2v3" stroke="#00ff00" stroke-width="1" fill="none"/>
<path d="M197.1 479.0h3M198.6 477.5v3" stroke="#00ff00" stroke-width="1" fill="none"/>
<path d="M189.6 474.9h3M191.1 473.4v3" stroke="#00ff00" stroke-width="1" fill="none"/>
<path d="M191.3 469.0h3M192.8 467.5v3" stroke="#00ff00" stroke-width="1" fill="none"/>
<path d="M191.7 475.3h3M193.2 473.8v3" stroke="#00ff00" stroke-width="1" fill="none"/>
<path d="M195.8 481.7h3M197.3 480.2v3" stroke="#00ff00" stroke-width="1" fill="none"/>
<path d="M196.1 482.6h3M197.6 481.1v3" stroke="#00ff00" stroke-width="1" fill="none"/>
<path d="M193.7 471.0h3M195.2 469.5v3" stroke="#00ff00" stroke-width="1" fill="none"/>
<path d="M190.5 471.9h3M192.0 470.4v3" stroke="#00ff00" stroke-width="1" fill="none"/>
<path d="M189.2 482.1h3M190.7 480.6v3" stroke="#00ff00" stroke-width="1" fill="none"/>
<path d="M187.4 476.9h3M188.9 475.4v3" stroke="#00ff00" stroke-width="1" fill="none"/>
<path d="M189.9 464.7h3M191.4 463.2v3" stroke="#00ff00" stroke-width="1" fill="none"/>
<path d="M188.1 475.5h3M189.6 474.0v3" stroke="#00ff00" stroke-width="1" fill="none"/>
<path d="M194.8 474.1h3M196.3 472.6v3" stroke="#00ff00" stroke-width="1" fill="none"/>
<path d="M189.6 473.3h3M191.1 471.8v3" stroke="#00ff00" stroke-width="1" fill="none"/>
<path d="M193.8 480.0h3M195.3 478.5v3" stroke="#00ff00" stroke-width="1" fill="none"/>
<path d="M195.2 484.5h3M196.7 483.0v3" stroke="#00ff00" stroke-width="1" fill="none"/>
<path d="M194.3 465.7h3M195.8 464.2v3" stroke="#00ff00" stroke-width="1" fill="none"/>
<path d="M196.2 470.1h3M197.7 468.6v3" stroke="#00ff00" stroke-width="1" fill="none"/>
<path d="M191.3 492.7l2.5 2.5l-2.5 2.5l-2.5-2.5z" fill="#00ff00"/>
<path d="M192.3 443.0l2.5 2.5l-2.5 2.5l-2.5-2.5z" fill="#00ff00"/>
<path d="M197.6 482.5l2.5 2.5l-2.5 2.5l-2.5-2.5z" fill="#00ff00"/>
<path d="M237.9 381.9h3M239.4 380.4v3" stroke="#00ff00" stroke-width="1" fill="none"/>
<path d="M238.3 380.7h3M239.8 379.2v3" stroke="#00ff00" stroke-width="1" fill="none"/>
<path d="M237.1 381.0h3M238.6 379.5v3" stroke="#00ff00" stroke-width="1" fill="none"/>
<path d="M237.9 381.6h3M239.4 380.1v3" stroke="#00ff00" stroke-width="1" fill="none"/>
<path d="M237.7 380.9h3M239.2 379.4v3" stroke="#00ff00" stroke-width="1" fill="none"/>
<path d="M238.4 383.9h3M239.9 382.4v3" stroke="#00ff00" stroke-width="1" fill="none"/>
<path d="M237.6 385.0h3M239.1 383.5v3" stroke="#00ff00" stroke-width="1" fill="none"/>
<path d="M236.8 380.6h3M238.3 379.1v3" stroke="#00ff00" stroke-width="1" fill="none"/>
<path d="M238.8 383.4h3M240.3 381.9v3" stroke="#00ff00" stroke-width="1" fill="none"/>
<path d="M238.7 381.9h3M240.2 380.4v3" stroke="#00ff00" stroke-width="1" fill="none"/>
<path d="M238.6 382.4h3M240.1 380.9v3" stroke="#00ff00" stroke-width="1" fill="none"/>
<path d="M242.1 388.4h3M243.6 386.9v3" stroke="#00ff00" stroke-width="1" fill="none"/>
<path d="M243.3 387.3h3M244.8 385.8v3" stroke="#00ff00" stroke-width="1" fill="none"/>
<path d="M242.0 385.6h3M243.5 384.1v3" stroke="#00ff00" stroke-width="1" fill="none"/>
<path d="M241.7 384.4h3M243.2 382.9v3" stroke="#00ff00" stroke-width="1" fill="none"/>
<path d="M242.1 387.2h3M243.6 385.7v3" stroke="#00ff00" stroke-width="1" fill="none"/>
<path d="M243.5 384.4h3M245.0 382.9v3" stroke="#00ff00" stroke-width="1" fill="none"/>
<path d="M243.6 384.3h3M245.1 382.8v3" stroke="#00ff00" stroke-width="1" fill="none"/>
<path d="M242.3 384.4h3M243.8 382.9v3" stroke="#00ff00" stroke-width="1" fill="none"/>
<path d="M244.1 386.8h3M245.6 385.3v3" stroke="#00ff00" stroke-width="1" fill="none"/>
<path d="M242.6 386.9h3M244.1 385.4v3" stroke="#00ff00" stroke-width="1" fill="none"/>
<path d="M243.5 383.6h3M245.0 382.1v3" stroke="#00ff00" stroke-width="1" fill="none"/>
<path d="M241.8 387.9h3M243.3 386.4v3" stroke="#00ff00" stroke-width="1" fill="none"/>
<path d="M242.7 385.0h3M244.2 383.5v3" stroke="#00ff00" stroke-width="1" fill="none"/>
<path d="M242.3 389.7h3M243.8 388.2v3" stroke="#00ff00" stroke-width="1" fill="none"/>
<path d="M237.3 392.3h3M238.8 390.8v3" stroke="#00ff00" stroke-width="1" fill="none"/>
<path d="M237.5 391.7h3M239.0 390.2v3" stroke="#00ff00" stroke-width="1" fill="none"/>
<path d="M237.5 390.8h3M239.0 389.3v3" stroke="#00ff00" stroke-width="1" fill="none"/>
<path d="M238.8 390.8h3M240.3 389.3v3" stroke="#00ff00" stroke-width="1" fill="none"/>
<path d="M237.7 393.3h3M239.2 391.8v3" stroke="#00ff00" stroke-width="1" fill="none"/>
<path d="M237.7 393.5h3M239.2 392.0v3" stroke="#00ff00" stroke-width="1" fill="none"/>
<path d="M237.9 390.7h3M239.4 389.2v3" stroke="#00ff00" stroke-width="1" fill="none"/>
<path d="M236.3 392.2h3M237.8 390.7v3" stroke="#00ff00" stroke-width="1" fill="none"/>
<path d="M238.5 393.6h3M240.0 392.1v3" stroke="#00ff00" stroke-width="1" fill="none"/>
<path d="M236.5 392.5h3M238.0 391.0v3" stroke="#00ff00" stroke-width="1" fill="none"/>
<path d="M238.7 399.0h3M240.2 397.5v3" stroke="#00ff00" stroke-width="1" fill="none"/>
<path d="M237.4 397.5h3M238.9 396.0v3" stroke="#00ff00" stroke-width="1" fill="none"/>
<path d="M239.6 402.0h3M241.1 400.5v3" stroke="#00ff00" stroke-width="1" fill="none"/>
<path d="M237.2 398.9h3M238.7 397.4v3" stroke="#00ff00" stroke-width="1" fill="none"/>
<path d="M237.7 396.4h3M239.2 394.9v3" stroke="#00ff00" stroke-width="1" fill="none"/>
<path d="M239.4 395.9h3M240.9 394.4v3" stroke="#00ff00" stroke-width="1" fill="none"/>
<path d="M242.1 398.2h3M243.6 396.7v3" stroke="#00ff00" stroke-width="1" fill="none"/>
<path d="M241.9 399.8h3M243.4 398.3v3" stroke="#00ff00" stroke-width="1" fill="none"/>
<path d="M241.4 396.6h3M242.9 395.1v3" stroke="#00ff00" stroke-width="1" fill="none"/>
<path d="M241.2 397.1h3M242.7 395.6v3" stroke="#00ff00" stroke-width="1" fill="none"/>
<path d="M238.9 401.4h3M240.4 399.9v3" stroke="#00ff00" stroke-width="1" fill="none"/>
<path d="M241.5 396.8h3M243.0 395.3v3" stroke="#00ff00" stroke-width="1" fill="none"/>
<path d="M237.8 398.3h3M239.3 396.8v3" stroke="#00ff00" stroke-width="1" fill="none"/>
<path d="M239.6 398.2h3M241.1 396.7v3" stroke="#00ff00" stroke-width="1" fill="none"/>
<path d="M237.2 397.2h3M238.7 395.7v3" stroke="#00ff00" stroke-width="1" fill="none"/>
<path d="M240.8 401.8h3M242.3 400.3v3" stroke="#00ff00" stroke-width="1" fill="none"/>
<path d="M236.7 399.4h3M238.2 397.9v3" stroke="#00ff00" stroke-width="1" fill="none"/>
<path d="M240.1 399.4h3M241.6 397.9v3" stroke="#00ff00" stroke-width="1" fill="none"/>
<path d="M240.3 397.6h3M241.8 396.1v3" stroke="#00ff00" stroke-width="1" fill="none"/>
<path d="M243.4 372.5l2.5 2.5l-2.5 2.5l-2.5-2.5z" fill="#00ff00"/>
<path d="M243.4 376.1l2.5 2.5l-2.5 2.5l-2.5-2.5z" fill="#00ff00"/>
<path d="M289.3 315.6h3M290.8 314.1v3" stroke="#00ff00" stroke-width="1" fill="none"/>
<path d="M289.3 316.2h3M290.8 314.7v3" stroke="#00ff00" stroke-width="1" fill="none"/>
<path d="M289.4 314.5h3M290.9 313.0v3" stroke="#00ff00" stroke-width="1" fill="none"/>
<path d="M286.6 315.9h3M288.1 314.4v3" stroke="#00ff00" stroke-width="1" fill="none"/>
<path d="M289.7 313.0h3M291.2 311.5v3" stroke="#00ff00" stroke-width="1" fill="none"/>
<path d="M291.6 317.1h3M293.1 315.6v3" stroke="#00ff00" stroke-width="1" fill="none"/>
<path d="M289.5 312.6h3M291.0 311.1v3" stroke="#00ff00" stroke-width="1" fill="none"/>
<path d="M289.6 312.1h3M291.1 310.6v3" stroke="#00ff00" stroke-width="1" fill="none"/>
<path d="M287.3 314.5h3M288.8 313.0v3" stroke="#00ff00" stroke-width="1" fill="none"/>
<path d="M287.0 314.6h3M288.5 313.1v3" stroke="#00ff00" stroke-width="1" fill="none"/>
<path d="M289.9 311.6h3M291.4 310.1v3" stroke="#00ff00" stroke-width="1" fill="none"/>
<path d="M290.7 311.9h3M292.2 310.4v3" stroke="#00ff00" stroke-width="1" fill="none"/>
<path d="M291.4 317.1h3M292.9 315.6v3" stroke="#00ff00" stroke-width="1" fill="none"/>
<path d="M289.9 311.7h3M291.4 310.2v3" stroke="#00ff00" stroke-width="1" fill="none"/>
<path d="M289.8 314.1h3M291.3 312.6v3" stroke="#00ff00" stroke-width="1" fill="none"/>
<path d="M291.4 317.3h3M292.9 315.8v3" stroke="#00ff00" stroke-width="1" fill="none"/>
<path d="M289.7 318.4h3M291.2 316.9v3" stroke="#00ff00" stroke-width="1" fill="none"/>
<path d="M286.8 313.9h3M288.3 312.4v3" stroke="#00ff00" stroke-width="1" fill="none"/>
<path d="M291.5 312.5h3M293.0 311.0v3" stroke="#00ff00" stroke-width="1" fill="none"/>
<path d="M292.5 313.3h3M294.0 311.8v3" stroke="#00ff00" stroke-width="1" fill="none"/>
<path d="M291.9 312.4h3M293.4 310.9v3" stroke="#00ff00" stroke-width="1" fill="none"/>
<path d="M289.8 318.1h3M291.3 316.6v3" stroke="#00ff00" stroke-width="1" fill="none"/>
<path d="M291.4 289.9l2.5 2.5l-2.5 2.5l-2.5-2.5z" fill="#00ff00"/>
<path d="M288.4 297.0l2.5 2.5l-2.5 2.5l-2.5-2.5z" fill="#00ff00"/>
<path d="M292.4 300.0l2.5 2.5l-2.5 2.5l-2.5-2.5z" fill="#00ff00"/>
<path d="M288.6 306.9l2.5 2.5l-2.5 2.5l-2.5-2.5z" fill="#00ff00"/>
<path d="M289.4 321.0l2.5 2.5l-2.5 2.5l-2.5-2.5z" fill="#00ff00"/>
<path d="M290.5 324.9l2.5 2.5l-2.5 2.5l-2.5-2.5z" fill="#00ff00"/>
<path d="M332.1 334.8h3M333.6 333.3v3" stroke="#00ff00" stroke-width="1" fill="none"/>
<path d="M334.3 335.1h3M335.8 333.6v3" stroke="#00ff00" stroke-width="1" fill="none"/>
<path d="M335.6 338.6h3M337.1 337.1v3" stroke="#00ff00" stroke-width="1" fill="none"/>
<path d="M331.8 337.9h3M333.3 336.4v3" stroke="#00ff00" stroke-width="1" fill="none"/>
<path d="M331.5 336.4h3M333.0 334.9v3" stroke="#00ff00" stroke-width="1" fill="none"/>
<path d="M335.3 335.4h3M336.8 333.9v3" stroke="#00ff00" stroke-width="1" fill="none"/>
<path d="M337.1 336.5h3M338.6 335.0v3" stroke="#00ff00" stroke-width="1" fill="none"/>
<path d="M334.9 338.5h3M336.4 337.0v3" stroke="#00ff00" stroke-width="1" fill="none"/>
<path d="M335.3 335.6h3M336.8 334.1v3" stroke="#00ff00" stroke-width="1" fill="none"/>
<path d="M336.5 334.8h3M338.0 333.3v3" stroke="#00ff00" stroke-width="1" fill="none"/>
<path d="M337.9 336.7h3M339.4 335.2v3" stroke="#00ff00" stroke-width="1" fill="none"/>
<path d="M333.3 337.8h3M334.8 336.3v3" stroke="#00ff00" stroke-width="1" fill="none"/>
<path d="M333.9 334.3h3M335.4 332.8v3" stroke="#00ff00" stroke-width="1" fill="none"/>
<path d="M336.7 334.7h3M338.2 333.2v3" stroke="#00ff00" stroke-width="1" fill="none"/>
<path d="M334.9 337.2h3M336.4 335.7v3" stroke="#00ff00" stroke-width="1" fill="none"/>
<path d="M335.2 335.8h3M336.7 334.3v3" stroke="#00ff00" stroke-width="1" fill="none"/>
<path d="M334.4 338.6h3M335.9 337.1v3" stroke="#00ff00" stroke-width="1" fill="none"/>
<path d="M331.6 334.6h3M333.1 333.1v3" stroke="#00ff00" stroke-width="1" fill="none"/>
<path d="M331.4 335.3h3M332.9 333.8v3" stroke="#00ff00" stroke-width="1" fill="none"/>
<path d="M332.3 336.7h3M333.8 335.2v3" stroke="#00ff00" stroke-width="1" fill="none"/>
<path d="M335.0 343.8h3M336.5 342.3v3" stroke="#00ff00" stroke-width="1" fill="none"/>
<path d="M335.3 346.0h3M336.8 344.5v3" stroke="#00ff00" stroke-width="1" fill="none"/>
<path d="M332.2 343.4h3M333.7 341.9v3" stroke="#00ff00" stroke-width="1" fill="none"/>
<path d="M331.1 347.3h3M332.6 345.8v3" stroke="#00ff00" stroke-width="1" fill="none"/>
<path d="M337.3 348.5h3M338.8 347.0v3" stroke="#00ff00" stroke-width="1" fill="none"/>
<path d="M333.5 344.3h3M335.0 342.8v3" stroke="#00ff00" stroke-width="1" fill="none"/>
<path d="M334.8 345.0h3M336.3 343.5v3" stroke="#00ff00" stroke-width="1" fill="none"/>
<path d="M335.5 345.8h3M337.0 344.3v3" stroke="#00ff00" stroke-width="1" fill="none"/>
<path d="M337.8 348.1h3M339.3 346.6v3" stroke="#00ff00" stroke-width="1" fill="none"/>
<path d="M332.3 349.4h3M333.8 347.9v3" stroke="#00ff00" stroke-width="1" fill="none"/>
<path d="M330.7 346.5h3M332.2 345.0v3" stroke="#00ff00" stroke-width="1" fill="none"/>
<path d="M333.5 344.1h3M335.0 342.6v3" stroke="#00ff00" stroke-width="1" fill="none"/>
<path d="M330.4 346.6h3M331.9 345.1v3" stroke="#00ff00" stroke-width="1" fill="none"/>
<path d="M331.9 347.1h3M333.4 345.6v3" stroke="#00ff00" stroke-width="1" fill="none"/>
<path d="M334.4 347.3h3M335.9 345.8v3" stroke="#00ff00" stroke-width="1" fill="none"/>
<path d="M336.8 343.6h3M338.3 342.1v3" stroke="#00ff00" stroke-width="1" fill="none"/>
<path d="M332.8 344.6h3M334.3 343.1v3" stroke="#00ff00" stroke-width="1" fill="none"/>
<path d="M336.6 347.9h3M338.1 346.4v3" stroke="#00ff00" stroke-width="1" fill="none"/>
<path d="M336.3 345.9h3M337.8 344.4v3" stroke="#00ff00" stroke-width="1" fill="none"/>
<path d="M336.2 345.8h3M337.7 344.3v3" stroke="#00ff00" stroke-width="1" fill="none"/>
<path d="M332.1 343.0h3M333.6 341.5v3" stroke="#00ff00" stroke-width="1" fill="none"/>
<path d="M333.0 348.2h3M334.5 346.7v3" stroke="#00ff00" stroke-width="1" fill="none"/>
<path d="M335.9 349.0h3M337.4 347.5v3" stroke="#00ff00" stroke-width="1" fill="none"/>
<path d="M336.0 344.3h3M337.5 342.8v3" stroke="#00ff00" stroke-width="1" fill="none"/>
<path d="M334.7 345.7h3M336.2 344.2v3" stroke="#00ff00" stroke-width="1" fill="none"/>
<path d="M336.6 346.4h3M338.1 344.9v3" stroke="#00ff00" stroke-width="1" fill="none"/>
<path d="M332.4 325.6l2.5 2.5l-2.5 2.5l-2.5-2.5z" fill="#00ff00"/>
<path d="M339.5 325.9l2.5 2.5l-2.5 2.5l-2.5-2.5z" fill="#00ff00"/>
<path d="M340.5 328.9l2.5 2.5l-2.5 2.5l-2.5-2.5z" fill="#00ff00"/>
<path d="M340.5 352.8l2.5 2.5l-2.5 2.5l-2.5-2.5z" fill="#00ff00"/>
<path d="M384.0 367.8h3M385.5 366.3v3" stroke="#00ff00" stroke-width="1" fill="none"/>
<path d="M383.9 362.6h3M385.4 361.1v3" stroke="#00ff00" stroke-width="1" fill="none"/>
<path d="M386.1 363.7h3M387.6 362.2v3" stroke="#00ff00" stroke-width="1" fill="none"/>
<path d="M386.7 363.8h3M388.2 362.3v3" stroke="#00ff00" stroke-width="1" fill="none"/>
<path d="M383.9 371.3h3M385.4 369.8v3" stroke="#00ff00" stroke-width="1" fill="none"/>
<path d="M385.6 368.5h3M387.1 367.0v3" stroke="#00ff00" stroke-width="1" fill="none"/>
<path d="M384.9 370.4h3M386.4 368.9v3" stroke="#00ff00" stroke-width="1" fill="none"/>
<path d="M385.9 370.6h3M387.4 369.1v3" stroke="#00ff00" stroke-width="1" fill="none"/>
<path d="M384.7 368.9h3M386.2 367.4v3" stroke="#00ff00" stroke-width="1" fill="none"/>
<path d="M385.3 363.5h3M386.8 362.0v3" stroke="#00ff00" stroke-width="1" fill="none"/>
<path d="M383.7 367.6h3M385.2 366.1v3" stroke="#00ff00" stroke-width="1" fill="none"/>
<path d="M384.3 361.3h3M385.8 359.8v3" stroke="#00ff00" stroke-width="1" fill="none"/>
<path d="M385.8 367.7h3M387.3 366.2v3" stroke="#00ff00" stroke-width="1" fill="none"/>
<path d="M385.9 369.1h3M387.4 367.6v3" stroke="#00ff00" stroke-width="1" fill="none"/>
<path d="M383.1 367.2h3M384.6 365.7v3" stroke="#00ff00" stroke-width="1" fill="none"/>
<path d="M384.4 370.1h3M385.9 368.6v3" stroke="#00ff00" stroke-width="1" fill="none"/>
<path d="M383.3 362.2h3M384.8 360.7v3" stroke="#00ff00" stroke-width="1" fill="none"/>
<path d="M386.5 370.1h3M388.0 368.6v3" stroke="#00ff00" stroke-width="1" fill="none"/>
<path d="M385.6 370.2h3M387.1 368.7v3" stroke="#00ff00" stroke-width="1" fill="none"/>
<path d="M385.6 363.2h3M387.1 361.7v3" stroke="#00ff00" stroke-width="1" fill="none"/>
<path d="M386.1 362.2h3M387.6 360.7v3" stroke="#00ff00" stroke-width="1" fill="none"/>
<path d="M384.2 365.0h3M385.7 363.5v3" stroke="#00ff00" stroke-width="1" fill="none"/>
<path d="M384.0 368.8h3M385.5 367.3v3" stroke="#00ff00" stroke-width="1" fill="none"/>
<path d="M384.4 363.7h3M385.9 362.2v3" stroke="#00ff00" stroke-width="1" fill="none"/>
<path d="M387.0 366.0h3M388.5 364.5v3" stroke="#00ff00" stroke-width="1" fill="none"/>
<path d="M383.8 377.8h3M385.3 376.3v3" stroke="#00ff00" stroke-width="1" fill="none"/>
<path d="M379.7 376.4h3M381.2 374.9v3" stroke="#00ff00" stroke-width="1" fill="none"/>
<path d="M381.7 378.9h3M383.2 377.4v3" stroke="#00ff00" stroke-width="1" fill="none"/>
<path d="M381.2 378.4h3M382.7 376.9v3" stroke="#00ff00" stroke-width="1" fill="none"/>
<path d="M382.2 375.0h3M383.7 373.5v3" stroke="#00ff00" stroke-width="1" fill="none"/>
<path d="M383.6 374.7h3M385.1 373.2v3" stroke="#00ff00" stroke-width="1" fill="none"/>
<path d="M379.5 376.9h3M381.0 375.4v3" stroke="#00ff00" stroke-width="1" fill="none"/>
<path d="M382.0 379.1h3M383.5 377.6v3" stroke="#00ff00" stroke-width="1" fill="none"/>
<path d="M380.4 377.0h3M381.9 375.5v3" stroke="#00ff00" stroke-width="1" fill="none"/>
<path d="M381.2 379.3h3M382.7 377.8v3" stroke="#00ff00" stroke-width="1" fill="none"/>
<path d="M380.9 375.0h3M382.4 373.5v3" stroke="#00ff00" stroke-width="1" fill="none"/>
<path d="M383.0 377.0h3M384.5 375.5v3" stroke="#00ff00" stroke-width="1" fill="none"/>
<path d="M380.0 378.0h3M381.5 376.5v3" stroke="#00ff00" stroke-width="1" fill="none"/>
<path d="M383.0 379.0h3M384.5 377.5v3" stroke="#00ff00" stroke-width="1" fill="none"/>
<path d="M382.6 376.0h3M384.1 374.5v3" stroke="#00ff00" stroke-width="1" fill="none"/>
<path d="M381.5 376.3h3M383.0 374.8v3" stroke="#00ff00" stroke-width="1" fill="none"/>
<path d="M380.5 375.3h3M382.0 373.8v3" stroke="#00ff00" stroke-width="1" fill="none"/>
<path d="M387.6 385.6h3M389.1 384.1v3" stroke="#00ff00" stroke-width="1" fill="none"/>
<path d="M386.8 386.7h3M388.3 385.2v3" stroke="#00ff00" stroke-width="1" fill="none"/>
<path d="M386.6 385.5h3M388.1 384.0v3" stroke="#00ff00" stroke-width="1" fill="none"/>
<path d="M387.0 386.3h3M388.5 384.8v3" stroke="#00ff00" stroke-width="1" fill="none"/>
<path d="M387.4 386.0h3M388.9 384.5v3" stroke="#00ff00" stroke-width="1" fill="none"/>
<path d="M386.8 385.1h3M388.3 383.6v3" stroke="#00ff00" stroke-width="1" fill="none"/>
<path d="M380.4 360.2l2.5 2.5l-2.5 2.5l-2.5-2.5z" fill="#00ff00"/>
<path d="M426.5 422.7h3M428.0 421.2v3" stroke="#00ff00" stroke-width="1" fill="none"/>
<path d="M430.6 421.9h3M432.1 420.4v3" stroke="#00ff00" stroke-width="1" fill="none"/>
<path d="M426.7 419.5h3M428.2 418.0v3" stroke="#00ff00" stroke-width="1" fill="none"/>
<path d="M431.5 420.6h3M433.0 419.1v3" stroke="#00ff00" stroke-width="1" fill="none"/>
<path d="M426.3 419.7h3M427.8 418.2v3" stroke="#00ff00" stroke-width="1" fill="none"/>
<path d="M432.4 417.9h3M433.9 416.4v3" stroke="#00ff00" stroke-width="1" fill="none"/>
<path d="M426.8 418.4h3M428.3 416.9v3" stroke="#00ff00" stroke-width="1" fill="none"/>
<path d="M430.9 422.7h3M432.4 421.2v3" stroke="#00ff00" stroke-width="1" fill="none"/>
<path d="M426.5 417.2h3M428.0 415.7v3" stroke="#00ff00" stroke-width="1" fill="none"/>
<path d="M427.3 418.6h3M428.8 417.1v3" stroke="#00ff00" stroke-width="1" fill="none"/>
<path d="M429.5 417.3h3M431.0 415.8v3" stroke="#00ff00" stroke-width="1" fill="none"/>
<path d="M427.9 417.5h3M429.4 416.0v3" stroke="#00ff00" stroke-width="1" fill="none"/>
<path d="M426.1 419.1h3M427.6 417.6v3" stroke="#00ff00" stroke-width="1" fill="none"/>
<path d="M431.2 419.5h3M432.7 418.0v3" stroke="#00ff00" stroke-width="1" fill="none"/>
<path d="M426.9 421.1h3M428.4 419.6v3" stroke="#00ff00" stroke-width="1" fill="none"/>
<path d="M426.2 417.7h3M427.7 416.2v3" stroke="#00ff00" stroke-width="1" fill="none"/>
<path d="M428.4 416.3h3M429.9 414.8v3" stroke="#00ff00" stroke-width="1" fill="none"/>
<path d="M428.5 422.3h3M430.0 420.8v3" stroke="#00ff00" stroke-width="1" fill="none"/>
<path d="M430.8 420.0h3M432.3 418.5v3" stroke="#00ff00" stroke-width="1" fill="none"/>
<path d="M430.4 419.7h3M431.9 418.2v3" stroke="#00ff00" stroke-width="1" fill="none"/>
<path d="M426.4 420.8h3M427.9 419.3v3" stroke="#00ff00" stroke-width="1" fill="none"/>
<path d="M428.5 421.9h3M430.0 420.4v3" stroke="#00ff00" stroke-width="1" fill="none"/>
<path d="M432.6 419.4h3M434.1 417.9v3" stroke="#00ff00" stroke-width="1" fill="none"/>
<path d="M429.9 422.0h3M431.4 420.5v3" stroke="#00ff00" stroke-width="1" fill="none"/>
<path d="M428.7 417.8h3M430.2 416.3v3" stroke="#00ff00" stroke-width="1" fill="none"/>
<path d="M431.1 423.0h3M432.6 421.5v3" stroke="#00ff00" stroke-width="1" fill="none"/>
<path d="M432.4 434.8h3M433.9 433.3v3" stroke="#00ff00" stroke-width="1" fill="none"/>
<path d="M433.0 434.7h3M434.5 433.2v3" stroke="#00ff00" stroke-width="1" fill="none"/>
<path d="M431.3 433.1h3M432.8 431.6v3" stroke="#00ff00" stroke-width="1" fill="none"/>
<path d="M428.7 434.3h3M430.2 432.8v3" stroke="#00ff00" stroke-width="1" fill="none"/>
<path d="M427.0 432.8h3M428.5 431.3v3" stroke="#00ff00" stroke-width="1" fill="none"/>
<path d="M432.5 434.9h3M434.0 433.4v3" stroke="#00ff00" stroke-width="1" fill="none"/>
<path d="M431.2 431.6h3M432.7 430.1v3" stroke="#00ff00" stroke-width="1" fill="none"/>
<path d="M429.6 433.1h3M431.1 431.6v3" stroke="#00ff00" stroke-width="1" fill="none"/>
<path d="M431.2 432.7h3M432.7 431.2v3" stroke="#00ff00" stroke-width="1" fill="none"/>
<path d="M431.6 436.5h3M433.1 435.0v3" stroke="#00ff00" stroke-width="1" fill="none"/>
<path d="M427.7 434.5h3M429.2 433.0v3" stroke="#00ff00" stroke-width="1" fill="none"/>
<path d="M432.4 432.6h3M433.9 431.1v3" stroke="#00ff00" stroke-width="1" fill="none"/>
<path d="M430.1 436.8h3M431.6 435.3v3" stroke="#00ff00" stroke-width="1" fill="none"/>
<path d="M426.5 433.7h3M428.0 432.2v3" stroke="#00ff00" stroke-width="1" fill="none"/>
<path d="M427.5 435.4h3M429.0 433.9v3" stroke="#00ff00" stroke-width="1" fill="none"/>
<path d="M433.7 433.5h3M435.2 432.0v3" stroke="#00ff00" stroke-width="1" fill="none"/>
<path d="M427.0 433.9h3M428.5 432.4v3" stroke="#00ff00" stroke-width="1" fill="none"/>
<path d="M430.5 435.0h3M432.0 433.5v3" stroke="#00ff00" stroke-width="1" fill="none"/>
<path d="M430.3 434.4h3M431.8 432.9v3" stroke="#00ff00" stroke-width="1" fill="none"/>
<path d="M432.8 433.6h3M434.3 432.1v3" stroke="#00ff00" stroke-width="1" fill="none"/>
<path d="M429.5 436.6h3M431.0 435.1v3" stroke="#00ff00" stroke-width="1" fill="none"/>
<path d="M427.9 434.7h3M429.4 433.2v3" stroke="#00ff00" stroke-width="1" fill="none"/>
<path d="M429.3 435.3h3M430.8 433.8v3" stroke="#00ff00" stroke-width="1" fill="none"/>
<path d="M429.0 430.2h3M430.5 428.7v3" stroke="#00ff00" stroke-width="1" fill="none"/>
<path d="M428.5 393.5l2.5 2.5l-2.5 2.5l-2.5-2.5z" fill="#00ff00"/>
<path d="M428.5 399.0l2.5 2.5l-2.5 2.5l-2.5-2.5z" fill="#00ff00"/>
<path d="M430.8 399.0l2.5 2.5l-2.5 2.5l-2.5-2.5z" fill="#00ff00"/>
<path d="M434.5 397.7l2.5 2.5l-2.5 2.5l-2.5-2.5z" fill="#00ff00"/>
<path d="M430.3 407.8l2.5 2.5l-2.5 2.5l-2.5-2.5z" fill="#00ff00"/>
<path d="M473.7 441.6h3M475.2 440.1v3" stroke="#00ff00" stroke-width="1" fill="none"/>
<path d="M470.7 441.9h3M472.2 440.4v3" stroke="#00ff00" stroke-width="1" fill="none"/>
<path d="M475.4 446.3h3M476.9 444.8v3" stroke="#00ff00" stroke-width="1" fill="none"/>
<path d="M474.6 439.5h3M476.1 438.0v3" stroke="#00ff00" stroke-width="1" fill="none"/>
<path d="M473.1 447.0h3M474.6 445.5v3" stroke="#00ff00" stroke-width="1" fill="none"/>
<path d="M481.4 443.6h3M482.9 442.1v3" stroke="#00ff00" stroke-width="1" fill="none"/>
<path d="M473.0 447.9h3M474.5 446.4v3" stroke="#00ff00" stroke-width="1" fill="none"/>
<path d="M475.0 438.7h3M476.5 437.2v3" stroke="#00ff00" stroke-width="1" fill="none"/>
<path d="M472.0 447.5h3M473.5 446.0v3" stroke="#00ff00" stroke-width="1" fill="none"/>
<path d="M479.9 445.3h3M481.4 443.8v3" stroke="#00ff00" stroke-width="1" fill="none"/>
<path d="M475.9 444.2h3M477.4 442.7v3" stroke="#00ff00" stroke-width="1" fill="none"/>
<path d="M474.6 445.4h3M476.1 443.9v3" stroke="#00ff00" stroke-width="1" fill="none"/>
<path d="M480.0 448.1h3M481.5 446.6v3" stroke="#00ff00" stroke-width="1" fill="none"/>
<path d="M475.9 440.0h3M477.4 438.5v3" stroke="#00ff00" stroke-width="1" fill="none"/>
<path d="M476.9 437.4h3M478.4 435.9v3" stroke="#00ff00" stroke-width="1" fill="none"/>
<path d="M480.2 440.9h3M481.7 439.4v3" stroke="#00ff00" stroke-width="1" fill="none"/>
<path d="M480.4 439.6h3M481.9 438.1v3" stroke="#00ff00" stroke-width="1" fill="none"/>
<path d="M474.9 439.4h3M476.4 437.9v3" stroke="#00ff00" stroke-width="1" fill="none"/>
<path d="M475.4 438.3h3M476.9 436.8v3" stroke="#00ff00" stroke-width="1" fill="none"/>
<path d="M473.8 439.2h3M475.3 437.7v3" stroke="#00ff00" stroke-width="1" fill="none"/>
<path d="M474.0 442.9h3M475.5 441.4v3" stroke="#00ff00" stroke-width="1" fill="none"/>
<path d="M475.5 445.3h3M477.0 443.8v3" stroke="#00ff00" stroke-width="1" fill="none"/>
<path d="M478.1 441.1h3M479.6 439.6v3" stroke="#00ff00" stroke-width="1" fill="none"/>
<path d="M481.0 447.6h3M482.5 446.1v3" stroke="#00ff00" stroke-width="1" fill="none"/>
<path d="M472.1 448.4h3M473.6 446.9v3" stroke="#00ff00" stroke-width="1" fill="none"/>
<path d="M478.1 439.3h3M479.6 437.8v3" stroke="#00ff00" stroke-width="1" fill="none"/>
<path d="M473.2 447.5h3M474.7 446.0v3" stroke="#00ff00" stroke-width="1" fill="none"/>
<path d="M474.5 437.8h3M476.0 436.3v3" stroke="#00ff00" stroke-width="1" fill="none"/>
<path d="M481.0 447.8h3M482.5 446.3v3" stroke="#00ff00" stroke-width="1" fill="none"/>
<path d="M477.6 447.6h3M479.1 446.1v3" stroke="#00ff00" stroke-width="1" fill="none"/>
<path d="M478.3 449.3h3M479.8 447.8v3" stroke="#00ff00" stroke-width="1" fill="none"/>
<path d="M479.6 448.5h3M481.1 447.0v3" stroke="#00ff00" stroke-width="1" fill="none"/>
<path d="M472.8 446.2h3M474.3 444.7v3" stroke="#00ff00" stroke-width="1" fill="none"/>
<path d="M476.7 447.0h3M478.2 445.5v3" stroke="#00ff00" stroke-width="1" fill="none"/>
<path d="M475.6 449.2h3M477.1 447.7v3" stroke="#00ff00" stroke-width="1" fill="none"/>
<path d="M476.9 439.5h3M478.4 438.0v3" stroke="#00ff00" stroke-width="1" fill="none"/>
<path d="M473.2 437.6h3M474.7 436.1v3" stroke="#00ff00" stroke-width="1" fill="none"/>
<path d="M476.2 436.3h3M477.7 434.8v3" stroke="#00ff00" stroke-width="1" fill="none"/>
<path d="M475.9 437.7h3M477.4 436.2v3" stroke="#00ff00" stroke-width="1" fill="none"/>
<path d="M476.2 443.2h3M477.7 441.7v3" stroke="#00ff00" stroke-width="1" fill="none"/>
<path d="M476.8 448.9h3M478.3 447.4v3" stroke="#00ff00" stroke-width="1" fill="none"/>
<path d="M475.9 444.2h3M477.4 442.7v3" stroke="#00ff00" stroke-width="1" fill="none"/>
<path d="M478.2 448.5h3M479.7 447.0v3" stroke="#00ff00" stroke-width="1" fill="none"/>
<path d="M474.8 441.9h3M476.3 440.4v3" stroke="#00ff00" stroke-width="1" fill="none"/>
<path d="M477.9 445.3h3M479.4 443.8v3" stroke="#00ff00" stroke-width="1" fill="none"/>
<path d="M470.8 444.9h3M472.3 443.4v3" stroke="#00ff00" stroke-width="1" fill="none"/>
<path d="M478.4 449.9h3M479.9 448.4v3" stroke="#00ff00" stroke-width="1" fill="none"/>
<path d="M476.4 443.0h3M477.9 441.5v3" stroke="#00ff00" stroke-width="1" fill="none"/>
<path d="M478.8 445.2h3M480.3 443.7v3" stroke="#00ff00" stroke-width="1" fill="none"/>
<path d="M474.4 448.8h3M475.9 447.3v3" stroke="#00ff00" stroke-width="1" fill="none"/>
<path d="M474.7 442.8h3M476.2 441.3v3" stroke="#00ff00" stroke-width="1" fill="none"/>
<path d="M476.6 447.4h3M478.1 445.9v3" stroke="#00ff00" stroke-width="1" fill="none"/>
<path d="M472.9 442.2h3M474.4 440.7v3" stroke="#00ff00" stroke-width="1" fill="none"/>
<path d="M475.4 444.0h3M476.9 442.5v3" stroke="#00ff00" stroke-width="1" fill="none"/>
<path d="M480.1 440.0h3M481.6 438.5v3" stroke="#00ff00" stroke-width="1" fill="none"/>
<path d="M480.1 441.7h3M481.6 440.2v3" stroke="#00ff00" stroke-width="1" fill="none"/>
<path d="M476.3 439.6h3M477.8 438.1v3" stroke="#00ff00" stroke-width="1" fill="none"/>
<path d="M476.4 450.6h3M477.9 449.1v3" stroke="#00ff00" stroke-width="1" fill="none"/>
<path d="M478.1 447.8h3M479.6 446.3v3" stroke="#00ff00" stroke-width="1" fill="none"/>
<path d="M474.3 440.3h3M475.8 438.8v3" stroke="#00ff00" stroke-width="1" fill="none"/>
<path d="M473.0 427.5l2.5 2.5l-2.5 2.5l-2.5-2.5z" fill="#00ff00"/>
<path d="M477.8 427.5l2.5 2.5l-2.5 2.5l-2.5-2.5z" fill="#00ff00"/>
<path d="M522.2 469.1h3M523.7 467.6v3" stroke="#00ff00" stroke-width="1" fill="none"/>
<path d="M525.9 472.2h3M527.4 470.7v3" stroke="#00ff00" stroke-width="1" fill="none"/>
<path d="M528.6 468.4h3M530.1 466.9v3" stroke="#00ff00" stroke-width="1" fill="none"/>
<path d="M519.4 464.5h3M520.9 463.0v3" stroke="#00ff00" stroke-width="1" fill="none"/>
<path d="M529.0 469.4h3M530.5 467.9v3" stroke="#00ff00" stroke-width="1" fill="none"/>
<path d="M526.1 472.3h3M527.6 470.8v3" stroke="#00ff00" stroke-width="1" fill="none"/>
<path d="M528.9 469.5h3M530.4 468.0v3" stroke="#00ff00" stroke-width="1" fill="none"/>
<path d="M525.7 469.7h3M527.2 468.2v3" stroke="#00ff00" stroke-width="1" fill="none"/>
<path d="M526.6 469.2h3M528.1 467.7v3" stroke="#00ff00" stroke-width="1" fill="none"/>
<path d="M526.4 463.1h3M527.9 461.6v3" stroke="#00ff00" stroke-width="1" fill="none"/>
<path d="M526.2 467.0h3M527.7 465.5v3" stroke="#00ff00" stroke-width="1" fill="none"/>
<path d="M527.3 461.3h3M528.8 459.8v3" stroke="#00ff00" stroke-width="1" fill="none"/>
<path d="M527.4 474.3h3M528.9 472.8v3" stroke="#00ff00" stroke-width="1" fill="none"/>
<path d="M526.1 465.6h3M527.6 464.1v3" stroke="#00ff00" stroke-width="1" fill="none"/>
<path d="M527.9 472.3h3M529.4 470.8v3" stroke="#00ff00" stroke-width="1" fill="none"/>
<path d="M525.1 463.8h3M526.6 462.3v3" stroke="#00ff00" stroke-width="1" fill="none"/>
<path d="M522.2 466.4h3M523.7 464.9v3" stroke="#00ff00" stroke-width="1" fill="none"/>
<path d="M522.4 466.6h3M523.9 465.1v3" stroke="#00ff00" stroke-width="1" fill="none"/>
<path d="M526.0 474.6h3M527.5 473.1v3" stroke="#00ff00" stroke-width="1" fill="none"/>
<path d="M519.5 468.8h3M521.0 467.3v3" stroke="#00ff00" stroke-width="1" fill="none"/>
<path d="M527.8 468.9h3M529.3 467.4v3" stroke="#00ff00" stroke-width="1" fill="none"/>
<path d="M529.0 466.8h3M530.5 465.3v3" stroke="#00ff00" stroke-width="1" fill="none"/>
<path d="M519.1 465.9h3M520.6 464.4v3" stroke="#00ff00" stroke-width="1" fill="none"/>
<path d="M525.4 474.7h3M526.9 473.2v3" stroke="#00ff00" stroke-width="1" fill="none"/>
<path d="M529.7 467.3h3M531.2 465.8v3" stroke="#00ff00" stroke-width="1" fill="none"/>
<path d="M523.4 461.3h3M524.9 459.8v3" stroke="#00ff00" stroke-width="1" fill="none"/>
<path d="M526.0 463.1h3M527.5 461.6v3" stroke="#00ff00" stroke-width="1" fill="none"/>
<path d="M526.8 463.6h3M528.3 462.1v3" stroke="#00ff00" stroke-width="1" fill="none"/>
<path d="M527.0 462.7h3M528.5 461.2v3" stroke="#00ff00" stroke-width="1" fill="none"/>
<path d="M526.7 473.4h3M528.2 471.9v3" stroke="#00ff00" stroke-width="1" fill="none"/>
<path d="M526.9 461.0h3M528.4 459.5v3" stroke="#00ff00" stroke-width="1" fill="none"/>
<path d="M525.8 471.0h3M527.3 469.5v3" stroke="#00ff00" stroke-width="1" fill="none"/>
<path d="M524.0 474.6h3M525.5 473.1v3" stroke="#00ff00" stroke-width="1" fill="none"/>
<path d="M522.3 471.4h3M523.8 469.9v3" stroke="#00ff00" stroke-width="1" fill="none"/>
<path d="M520.7 473.5h3M522.2 472.0v3" stroke="#00ff00" stroke-width="1" fill="none"/>
<path d="M524.2 460.7h3M525.7 459.2v3" stroke="#00ff00" stroke-width="1" fill="none"/>
<path d="M522.9 468.9h3M524.4 467.4v3" stroke="#00ff00" stroke-width="1" fill="none"/>
<path d="M523.7 470.5h3M525.2 469.0v3" stroke="#00ff00" stroke-width="1" fill="none"/>
<path d="M520.5 472.5h3M522.0 471.0v3" stroke="#00ff00" stroke-width="1" fill="none"/>
<path d="M522.9 470.0h3M524.4 468.5v3" stroke="#00ff00" stroke-width="1" fill="none"/>
<path d="M525.8 466.4h3M527.3 464.9v3" stroke="#00ff00" stroke-width="1" fill="none"/>
<path d="M523.1 472.3h3M524.6 470.8v3" stroke="#00ff00" stroke-width="1" fill="none"/>
<path d="M525.1 464.4h3M526.6 462.9v3" stroke="#00ff00" stroke-width="1" fill="none"/>
<path d="M526.6 472.9h3M528.1 471.4v3" stroke="#00ff00" stroke-width="1" fill="none"/>
<path d="M522.6 469.4h3M524.1 467.9v3" stroke="#00ff00" stroke-width="1" fill="none"/>
<path d="M525.5 464.6h3M527.0 463.1v3" stroke="#00ff00" stroke-width="1" fill="none"/>
<path d="M523.6 473.9h3M525.1 472.4v3" stroke="#00ff00" stroke-width="1" fill="none"/>
<path d="M523.0 470.7h3M524.5 469.2v3" stroke="#00ff00" stroke-width="1" fill="none"/>
<path d="M525.5 474.0h3M527.0 472.5v3" stroke="#00ff00" stroke-width="1" fill="none"/>
<path d="M527.8 464.2h3M529.3 462.7v3" stroke="#00ff00" stroke-width="1" fill="none"/>
<path d="M523.5 469.1h3M525.0 467.6v3" stroke="#00ff00" stroke-width="1" fill="none"/>
<path d="M527.9 473.9h3M529.4 472.4v3" stroke="#00ff00" stroke-width="1" fill="none"/>
<path d="M527.8 473.6h3M529.3 472.1v3" stroke="#00ff00" stroke-width="1" fill="none"/>
<path d="M525.2 464.1h3M526.7 462.6v3" stroke="#00ff00" stroke-width="1" fill="none"/>
<path d="M528.3 472.6h3M529.8 471.1v3" stroke="#00ff00" stroke-width="1" fill="none"/>
<path d="M526.4 474.3h3M527.9 472.8v3" stroke="#00ff00" stroke-width="1" fill="none"/>
<path d="M522.7 461.1h3M524.2 459.6v3" stroke="#00ff00" stroke-width="1" fill="none"/>
<path d="M525.0 472.5h3M526.5 471.0v3" stroke="#00ff00" stroke-width="1" fill="none"/>
<path d="M521.1 471.7h3M522.6 470.2v3" stroke="#00ff00" stroke-width="1" fill="none"/>
<path d="M524.5 487.5h3M526.0 486.0v3" stroke="#00ff00" stroke-width="1" fill="none"/>
<path d="M523.8 480.9h3M525.3 479.4v3" stroke="#00ff00" stroke-width="1" fill="none"/>
<path d="M522.8 488.5h3M524.3 487.0v3" stroke="#00ff00" stroke-width="1" fill="none"/>
<path d="M525.5 484.4h3M527.0 482.9v3" stroke="#00ff00" stroke-width="1" fill="none"/>
<path d="M525.4 481.3h3M526.9 479.8v3" stroke="#00ff00" stroke-width="1" fill="none"/>
<path d="M524.4 490.6h3M525.9 489.1v3" stroke="#00ff00" stroke-width="1" fill="none"/>
<path d="M525.9 485.3h3M527.4 483.8v3" stroke="#00ff00" stroke-width="1" fill="none"/>
<path d="M523.9 486.3h3M525.4 484.8v3" stroke="#00ff00" stroke-width="1" fill="none"/>
<path d="M522.4 480.7h3M523.9 479.2v3" stroke="#00ff00" stroke-width="1" fill="none"/>
<path d="M522.4 487.8h3M523.9 486.3v3" stroke="#00ff00" stroke-width="1" fill="none"/>
<path d="M523.3 485.9h3M524.8 484.4v3" stroke="#00ff00" stroke-width="1" fill="none"/>
<path d="M523.5 485.2h3M525.0 483.7v3" stroke="#00ff00" stroke-width="1" fill="none"/>
<path d="M522.0 486.9h3M523.5 485.4v3" stroke="#00ff00" stroke-width="1" fill="none"/>
<path d="M525.4 480.2h3M526.9 478.7v3" stroke="#00ff00" stroke-width="1" fill="none"/>
<path d="M524.5 482.8h3M526.0 481.3v3" stroke="#00ff00" stroke-width="1" fill="none"/>
<path d="M524.1 478.3h3M525.6 476.8v3" stroke="#00ff00" stroke-width="1" fill="none"/>
<path d="M525.8 484.8h3M527.3 483.3v3" stroke="#00ff00" stroke-width="1" fill="none"/>
<path d="M524.3 481.7h3M525.8 480.2v3" stroke="#00ff00" stroke-width="1" fill="none"/>
<path d="M525.4 484.0h3M526.9 482.5v3" stroke="#00ff00" stroke-width="1" fill="none"/>
<path d="M522.5 480.5h3M524.0 479.0v3" stroke="#00ff00" stroke-width="1" fill="none"/>
<path d="M524.3 490.2h3M525.8 488.7v3" stroke="#00ff00" stroke-width="1" fill="none"/>
<path d="M523.8 491.3h3M525.3 489.8v3" stroke="#00ff00" stroke-width="1" fill="none"/>
<path d="M524.5 483.6h3M526.0 482.1v3" stroke="#00ff00" stroke-width="1" fill="none"/>
<path d="M522.8 485.9h3M524.3 484.4v3" stroke="#00ff00" stroke-width="1" fill="none"/>
<path d="M524.7 491.4h3M526.2 489.9v3" stroke="#00ff00" stroke-width="1" fill="none"/>
<path d="M524.8 483.5h3M526.3 482.0v3" stroke="#00ff00" stroke-width="1" fill="none"/>
<path d="M523.7 480.2h3M525.2 478.7v3" stroke="#00ff00" stroke-width="1" fill="none"/>
<path d="M522.8 482.9h3M524.3 481.4v3" stroke="#00ff00" stroke-width="1" fill="none"/>
<path d="M525.4 487.9h3M526.9 486.4v3" stroke="#00ff00" stroke-width="1" fill="none"/>
<path d="M528.0 452.5l2.5 2.5l-2.5 2.5l-2.5-2.5z" fill="#00ff00"/>
<path d="M532.8 452.5l2.5 2.5l-2.5 2.5l-2.5-2.5z" fill="#00ff00"/>
<rect x="60.5" y="24.5" width="761" height="512" fill="none" stroke="#000" stroke-width="1" shape-rendering="crispEdges"/>
<path d="M107.5 536v-12 M107.5 25v12 M155.5 536v-6 M155.5 25v6 M202.5 536v-12 M202.5 25v12 M250.5 536v-6 M250.5 25v6 M298.5 536v-12 M298.5 25v12 M345.5 536v-6 M345.5 25v6 M393.5 536v-12 M393.5 25v12 M440.5 536v-6 M440.5 25v6 M488.5 536v-12 M488.5 25v12 M535.5 536v-6 M535.5 25v6 M583.5 536v-12 M583.5 25v12 M631.5 536v-6 M631.5 25v6 M678.5 536v-12 M678.5 25v12 M726.5 536v-6 M726.5 25v6 M773.5 536v-12 M773.5 25v12 M61 496.5h5 M821 496.5h-6 M61 457.5h11 M821 457.5h-12 M61 417.5h5 M821 417.5h-6 M61 378.5h11 M821 378.5h-12 M61 339.5h5 M821 339.5h-6 M61 299.5h11 M821 299.5h-12 M61 260.5h5 M821 260.5h-6 M61 221.5h11 M821 221.5h-12 M61 181.5h5 M821 181.5h-6 M61 142.5h11 M821 142.5h-12 M61 103.5h5 M821 103.5h-6 M61 63.5h11 M821 63.5h-12" stroke="#000" stroke-width="1" fill="none" shape-rendering="crispEdges"/>
<text transform="translate(108.30,559.50) scale(1,1.030)" font-size="24.50" fill="#000" text-anchor="middle" stroke="#fff" stroke-width="0.10" xml:space="preserve">60156</text>
<text transform="translate(203.30,559.50) scale(1,1.030)" font-size="24.50" fill="#000" text-anchor="middle" stroke="#fff" stroke-width="0.10" xml:space="preserve">60158</text>
<text transform="translate(299.30,559.50) scale(1,1.030)" font-size="24.50" fill="#000" text-anchor="middle" stroke="#fff" stroke-width="0.10" xml:space="preserve">60160</text>
<text transform="translate(394.30,559.50) scale(1,1.030)" font-size="24.50" fill="#000" text-anchor="middle" stroke="#fff" stroke-width="0.10" xml:space="preserve">60162</text>
<text transform="translate(489.30,559.50) scale(1,1.030)" font-size="24.50" fill="#000" text-anchor="middle" stroke="#fff" stroke-width="0.10" xml:space="preserve">60164</text>
<text transform="translate(584.30,559.50) scale(1,1.030)" font-size="24.50" fill="#000" text-anchor="middle" stroke="#fff" stroke-width="0.10" xml:space="preserve">60166</text>
<text transform="translate(679.30,559.50) scale(1,1.030)" font-size="24.50" fill="#000" text-anchor="middle" stroke="#fff" stroke-width="0.10" xml:space="preserve">60168</text>
<text transform="translate(774.30,559.50) scale(1,1.030)" font-size="24.50" fill="#000" text-anchor="middle" stroke="#fff" stroke-width="0.10" xml:space="preserve">60170</text>
<text transform="translate(55.60,542.80) scale(1,1.030)" font-size="16.90" fill="#000" text-anchor="end" stroke="#fff" stroke-width="0.10" xml:space="preserve">0</text>
<text transform="translate(55.60,463.80) scale(1,1.030)" font-size="16.90" fill="#000" text-anchor="end" stroke="#fff" stroke-width="0.10" xml:space="preserve">1000</text>
<text transform="translate(55.60,384.80) scale(1,1.030)" font-size="16.90" fill="#000" text-anchor="end" stroke="#fff" stroke-width="0.10" xml:space="preserve">2000</text>
<text transform="translate(55.60,305.80) scale(1,1.030)" font-size="16.90" fill="#000" text-anchor="end" stroke="#fff" stroke-width="0.10" xml:space="preserve">3000</text>
<text transform="translate(55.60,227.80) scale(1,1.030)" font-size="16.90" fill="#000" text-anchor="end" stroke="#fff" stroke-width="0.10" xml:space="preserve">4000</text>
<text transform="translate(55.60,148.80) scale(1,1.030)" font-size="16.90" fill="#000" text-anchor="end" stroke="#fff" stroke-width="0.10" xml:space="preserve">5000</text>
<text transform="translate(55.60,69.80) scale(1,1.030)" font-size="16.90" fill="#000" text-anchor="end" stroke="#fff" stroke-width="0.10" xml:space="preserve">6000</text>
<text transform="translate(441.00,584.00)" font-size="27.50" fill="#000" text-anchor="middle" stroke="#fff" stroke-width="0.10" xml:space="preserve">MJD</text>
<text transform="translate(20.50,378.20) rotate(-90) scale(1,1.030)" font-size="27.60" fill="#000" stroke="#fff" stroke-width="0.10" xml:space="preserve">Flux density, mJy</text>
<text transform="translate(179.10,524.00) scale(1,1.070)" font-size="23.60" fill="#0000ff" stroke="#fff" stroke-width="0.10" word-spacing="2" xml:space="preserve">2 Aug</text>
<text transform="translate(273.30,524.00) scale(1,1.070)" font-size="23.60" fill="#0000ff" stroke="#fff" stroke-width="0.10" word-spacing="2" xml:space="preserve">4 Aug</text>
<text transform="translate(367.10,524.00) scale(1,1.070)" font-size="23.60" fill="#0000ff" stroke="#fff" stroke-width="0.10" word-spacing="2" xml:space="preserve">6 Aug</text>
<text transform="translate(462.10,524.00) scale(1,1.070)" font-size="23.60" fill="#0000ff" stroke="#fff" stroke-width="0.10" word-spacing="2" xml:space="preserve">8 Aug</text>
<text transform="translate(585.30,62.00) scale(1,1.070)" font-size="30.20" fill="#0000ff" stroke="#fff" stroke-width="0.10" xml:space="preserve">GRS1915+105</text>
<rect x="571.5" y="77.5" width="205" height="221.5" fill="#fff" stroke="#000" stroke-width="1" shape-rendering="crispEdges"/>
<text transform="translate(625.20,100.70) scale(1,1.030)" font-size="24.10" fill="#000" stroke="#fff" stroke-width="0.10" xml:space="preserve"> 2.3 GHz</text>
<path d="M585.7 92.3H609.7" stroke="#000" stroke-width="1" shape-rendering="crispEdges"/>
<path d="M578.1 92.3h15.2M585.7 84.0v16.6" stroke="#000" stroke-width="2" fill="none" shape-rendering="crispEdges"/>
<path d="M602.1 92.3h15.2M609.7 84.0v16.6" stroke="#000" stroke-width="2" fill="none" shape-rendering="crispEdges"/>
<text transform="translate(625.20,124.65) scale(1,1.030)" font-size="24.10" fill="#000" stroke="#fff" stroke-width="0.10" xml:space="preserve"> 4.7 GHz</text>
<path d="M586.3 116.2H610.3" stroke="#ff0000" stroke-width="1" stroke-dasharray="5,3" shape-rendering="crispEdges"/>
<circle cx="586.3" cy="116.2" r="5.3" fill="none" stroke="#ff0000" stroke-width="1.1"/>
<circle cx="610.3" cy="116.2" r="5.3" fill="none" stroke="#ff0000" stroke-width="1.1"/>
<text transform="translate(625.20,148.60) scale(1,1.030)" font-size="24.10" fill="#000" stroke="#fff" stroke-width="0.10" xml:space="preserve"> 8.2 GHz</text>
<path d="M586.3 140.2H610.3" stroke="#00ff00" stroke-width="1" stroke-dasharray="5,3" shape-rendering="crispEdges"/>
<circle cx="586.3" cy="140.2" r="5.4" fill="none" stroke="#00ff00" stroke-width="2.6"/>
<circle cx="610.3" cy="140.2" r="5.4" fill="none" stroke="#00ff00" stroke-width="2.6"/>
<text transform="translate(625.20,172.55) scale(1,1.030)" font-size="24.10" fill="#000" stroke="#fff" stroke-width="0.10" xml:space="preserve">11.2 GHz</text>
<path d="M586.3 164.2H610.3" stroke="#0000ff" stroke-width="1" stroke-dasharray="5,3" shape-rendering="crispEdges"/>
<path d="M576.9 164.2h18.8M586.3 154.8v18.8" stroke="#0000ff" stroke-width="2" fill="none" shape-rendering="crispEdges"/>
<path d="M600.9 164.2h18.8M610.3 154.8v18.8" stroke="#0000ff" stroke-width="2" fill="none" shape-rendering="crispEdges"/>
<text transform="translate(625.20,196.50) scale(1,1.030)" font-size="24.10" fill="#000" stroke="#fff" stroke-width="0.10" xml:space="preserve">22.3 GHz</text>
<path d="M586.3 188.1H610.3" stroke="#ff00ff" stroke-width="1" shape-rendering="crispEdges"/>
<path d="M577.5 188.1h17.6M586.3 179.3v17.6" stroke="#ff00ff" stroke-width="2" fill="none" shape-rendering="crispEdges"/>
<path d="M601.5 188.1h17.6M610.3 179.3v17.6" stroke="#ff00ff" stroke-width="2" fill="none" shape-rendering="crispEdges"/>
<text transform="translate(625.20,220.45) scale(1,1.030)" font-size="24.10" fill="#000" stroke="#fff" stroke-width="0.10" xml:space="preserve"> 1.28 GHz MK</text>
<path d="M586.3 212H609.8" stroke="#ffa500" stroke-width="2" shape-rendering="crispEdges"/>
<path d="M586.3 205.0L593.8 216.0H578.8Z" fill="#ffa500"/>
<path d="M609.8 205.0L617.3 216.0H602.3Z" fill="#ffa500"/>
<text transform="translate(625.20,244.40) scale(1,1.030)" font-size="24.10" fill="#000" stroke="#fff" stroke-width="0.10" xml:space="preserve">15.5 GHz AMI</text>
<path d="M586.5 236.5H610.5" stroke="#0000ff" stroke-width="1" shape-rendering="crispEdges"/>
<rect x="581.2" y="231.1" width="10.6" height="10.6" fill="#0000ff"/>
<rect x="605.2" y="231.1" width="10.6" height="10.6" fill="#0000ff"/>
<text transform="translate(625.20,268.35) scale(1,1.030)" font-size="24.10" fill="#000" stroke="#fff" stroke-width="0.10" xml:space="preserve"> 4.7 GHz Az</text>
<path d="M596.8 259.3h3M598.3 257.8v3" stroke="#ff0000" stroke-width="1"/>
<text transform="translate(625.20,292.30) scale(1,1.030)" font-size="24.10" fill="#000" stroke="#fff" stroke-width="0.10" xml:space="preserve"> 8.2 GHz Az</text>
<path d="M598.3 281.3l3 3l-3 3l-3-3z" fill="#00ff00"/>
</svg></body></html>
